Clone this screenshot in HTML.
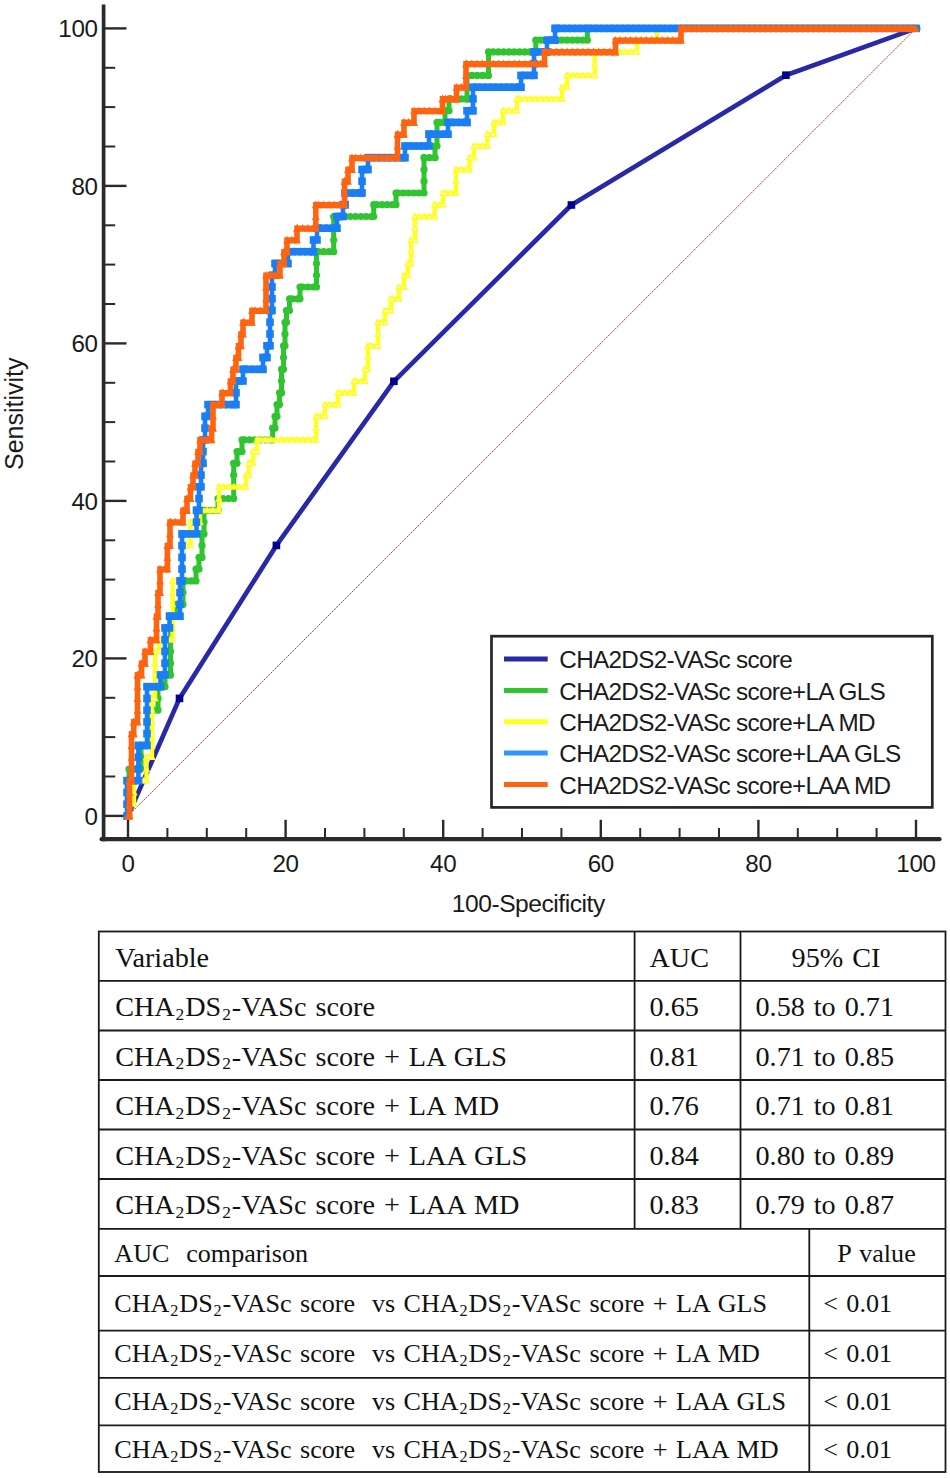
<!DOCTYPE html>
<html><head><meta charset="utf-8"><title>ROC</title><style>html,body{margin:0;padding:0;background:#fff}svg{display:block}</style></head><body>
<svg width="950" height="1478" viewBox="0 0 950 1478" font-family="Liberation Sans, sans-serif">
<rect width="950" height="1478" fill="#fff"/>
<line x1="128" y1="815.9" x2="916" y2="28.4" stroke="#b54545" stroke-width="1" stroke-dasharray="2.2 0.9"/>
<g stroke="#2a2a2a" fill="none">
<line x1="103.6" y1="4.5" x2="103.6" y2="841.2" stroke-width="3.7"/>
<line x1="101.6" y1="839.2" x2="939.5" y2="839.2" stroke-width="4.2" stroke-linecap="round"/>
<line x1="104" y1="815.9" x2="126.5" y2="815.9" stroke-width="2.4"/>
<line x1="128.0" y1="838" x2="128.0" y2="819.8" stroke-width="2.4"/>
<line x1="104" y1="776.5" x2="115.2" y2="776.5" stroke-width="2"/>
<line x1="167.4" y1="838" x2="167.4" y2="828" stroke-width="2"/>
<line x1="104" y1="737.1" x2="115.2" y2="737.1" stroke-width="2"/>
<line x1="206.8" y1="838" x2="206.8" y2="828" stroke-width="2"/>
<line x1="104" y1="697.8" x2="115.2" y2="697.8" stroke-width="2"/>
<line x1="246.2" y1="838" x2="246.2" y2="828" stroke-width="2"/>
<line x1="104" y1="658.4" x2="126.5" y2="658.4" stroke-width="2.4"/>
<line x1="285.6" y1="838" x2="285.6" y2="819.8" stroke-width="2.4"/>
<line x1="104" y1="619.0" x2="115.2" y2="619.0" stroke-width="2"/>
<line x1="325.0" y1="838" x2="325.0" y2="828" stroke-width="2"/>
<line x1="104" y1="579.6" x2="115.2" y2="579.6" stroke-width="2"/>
<line x1="364.4" y1="838" x2="364.4" y2="828" stroke-width="2"/>
<line x1="104" y1="540.3" x2="115.2" y2="540.3" stroke-width="2"/>
<line x1="403.8" y1="838" x2="403.8" y2="828" stroke-width="2"/>
<line x1="104" y1="500.9" x2="126.5" y2="500.9" stroke-width="2.4"/>
<line x1="443.2" y1="838" x2="443.2" y2="819.8" stroke-width="2.4"/>
<line x1="104" y1="461.5" x2="115.2" y2="461.5" stroke-width="2"/>
<line x1="482.6" y1="838" x2="482.6" y2="828" stroke-width="2"/>
<line x1="104" y1="422.1" x2="115.2" y2="422.1" stroke-width="2"/>
<line x1="522.0" y1="838" x2="522.0" y2="828" stroke-width="2"/>
<line x1="104" y1="382.8" x2="115.2" y2="382.8" stroke-width="2"/>
<line x1="561.4" y1="838" x2="561.4" y2="828" stroke-width="2"/>
<line x1="104" y1="343.4" x2="126.5" y2="343.4" stroke-width="2.4"/>
<line x1="600.8" y1="838" x2="600.8" y2="819.8" stroke-width="2.4"/>
<line x1="104" y1="304.0" x2="115.2" y2="304.0" stroke-width="2"/>
<line x1="640.2" y1="838" x2="640.2" y2="828" stroke-width="2"/>
<line x1="104" y1="264.6" x2="115.2" y2="264.6" stroke-width="2"/>
<line x1="679.6" y1="838" x2="679.6" y2="828" stroke-width="2"/>
<line x1="104" y1="225.3" x2="115.2" y2="225.3" stroke-width="2"/>
<line x1="719.0" y1="838" x2="719.0" y2="828" stroke-width="2"/>
<line x1="104" y1="185.9" x2="126.5" y2="185.9" stroke-width="2.4"/>
<line x1="758.4" y1="838" x2="758.4" y2="819.8" stroke-width="2.4"/>
<line x1="104" y1="146.5" x2="115.2" y2="146.5" stroke-width="2"/>
<line x1="797.8" y1="838" x2="797.8" y2="828" stroke-width="2"/>
<line x1="104" y1="107.1" x2="115.2" y2="107.1" stroke-width="2"/>
<line x1="837.2" y1="838" x2="837.2" y2="828" stroke-width="2"/>
<line x1="104" y1="67.8" x2="115.2" y2="67.8" stroke-width="2"/>
<line x1="876.6" y1="838" x2="876.6" y2="828" stroke-width="2"/>
<line x1="104" y1="28.4" x2="126.5" y2="28.4" stroke-width="2.4"/>
<line x1="916.0" y1="838" x2="916.0" y2="819.8" stroke-width="2.4"/>
</g>
<g font-size="24.2" fill="#1a1a1a" letter-spacing="-0.35">
<text x="97.6" y="824.9" text-anchor="end">0</text>
<text x="128.0" y="872.4" text-anchor="middle">0</text>
<text x="97.6" y="667.4" text-anchor="end">20</text>
<text x="285.6" y="872.4" text-anchor="middle">20</text>
<text x="97.6" y="509.9" text-anchor="end">40</text>
<text x="443.2" y="872.4" text-anchor="middle">40</text>
<text x="97.6" y="352.4" text-anchor="end">60</text>
<text x="600.8" y="872.4" text-anchor="middle">60</text>
<text x="97.6" y="194.9" text-anchor="end">80</text>
<text x="758.4" y="872.4" text-anchor="middle">80</text>
<text x="97.6" y="37.4" text-anchor="end">100</text>
<text x="916.0" y="872.4" text-anchor="middle">100</text>
</g>
<text x="528.3" y="912.2" font-size="24.6" letter-spacing="-0.47" text-anchor="middle" fill="#1a1a1a">100-Specificity</text>
<text transform="translate(23.3,413.7) rotate(-90) scale(0.962,1.01)" font-size="26" text-anchor="middle" fill="#1a1a1a">Sensitivity</text>
<path d="M128.0 815.9 L179.5 698.4 L276.4 545.4 L393.9 381.3 L571.4 205.0 L785.9 75.2 L916.0 28.4" fill="none" stroke="#2929a8" stroke-width="4.7" stroke-linejoin="round"/>
<rect x="175.7" y="694.6" width="7.6" height="7.6" fill="#00008a"/>
<rect x="272.6" y="541.6" width="7.6" height="7.6" fill="#00008a"/>
<rect x="390.1" y="377.5" width="7.6" height="7.6" fill="#00008a"/>
<rect x="567.6" y="201.2" width="7.6" height="7.6" fill="#00008a"/>
<rect x="782.1" y="71.4" width="7.6" height="7.6" fill="#00008a"/>
<path d="M128.0 816.0 L129.0 816.0 L129.0 769.0 L141.0 769.0 L141.0 745.5 L150.0 745.5 L150.0 710.2 L158.0 710.2 L158.0 686.7 L165.0 686.7 L165.0 674.9 L170.5 674.9 L170.5 616.1 L176.0 616.1 L176.0 604.4 L183.0 604.4 L183.0 580.9 L196.0 580.9 L196.0 569.1 L199.0 569.1 L199.0 557.4 L202.0 557.4 L202.0 533.9 L204.0 533.9 L204.0 510.4 L218.0 510.4 L218.0 498.6 L233.7 498.6 L233.7 463.3 L237.0 463.3 L237.0 451.6 L242.0 451.6 L242.0 439.8 L272.6 439.8 L272.6 428.1 L275.0 428.1 L275.0 416.3 L277.0 416.3 L277.0 404.6 L279.5 404.6 L279.5 392.8 L281.5 392.8 L281.5 369.3 L283.5 369.3 L283.5 345.8 L285.0 345.8 L285.0 322.3 L286.5 322.3 L286.5 310.5 L289.5 310.5 L289.5 298.8 L300.0 298.8 L300.0 287.0 L316.5 287.0 L316.5 251.7 L333.7 251.7 L333.7 216.5 L373.7 216.5 L373.7 204.7 L396.0 204.7 L396.0 193.0 L424.0 193.0 L424.0 157.7 L435.0 157.7 L435.0 146.0 L437.0 146.0 L437.0 122.4 L445.0 122.4 L445.0 110.7 L449.0 110.7 L449.0 98.9 L467.0 98.9 L467.0 75.4 L488.5 75.4 L488.5 51.9 L535.8 51.9 L535.8 40.2 L587.4 40.2 L587.4 28.4 L917.0 28.4" fill="none" stroke="#30c430" stroke-width="5" stroke-linejoin="round" stroke-linecap="round"/>
<g fill="#30c430">
<circle cx="128.0" cy="816.0" r="3.6"/>
<circle cx="129.0" cy="816.0" r="3.6"/>
<circle cx="129.0" cy="769.0" r="3.6"/>
<circle cx="129.0" cy="780.7" r="3.6"/>
<circle cx="129.0" cy="792.5" r="3.6"/>
<circle cx="129.0" cy="804.2" r="3.6"/>
<circle cx="133.3" cy="769.0" r="3.6"/>
<circle cx="138.6" cy="769.0" r="3.6"/>
<circle cx="141.0" cy="769.0" r="3.6"/>
<circle cx="141.0" cy="745.5" r="3.6"/>
<circle cx="141.0" cy="757.2" r="3.6"/>
<circle cx="143.9" cy="745.5" r="3.6"/>
<circle cx="149.2" cy="745.5" r="3.6"/>
<circle cx="150.0" cy="745.5" r="3.6"/>
<circle cx="150.0" cy="710.2" r="3.6"/>
<circle cx="150.0" cy="721.9" r="3.6"/>
<circle cx="150.0" cy="733.7" r="3.6"/>
<circle cx="154.4" cy="710.2" r="3.6"/>
<circle cx="158.0" cy="710.2" r="3.6"/>
<circle cx="158.0" cy="686.7" r="3.6"/>
<circle cx="158.0" cy="698.4" r="3.6"/>
<circle cx="159.7" cy="686.7" r="3.6"/>
<circle cx="165.0" cy="686.7" r="3.6"/>
<circle cx="165.0" cy="674.9" r="3.6"/>
<circle cx="170.3" cy="674.9" r="3.6"/>
<circle cx="170.5" cy="674.9" r="3.6"/>
<circle cx="170.5" cy="616.1" r="3.6"/>
<circle cx="170.5" cy="627.9" r="3.6"/>
<circle cx="170.5" cy="639.7" r="3.6"/>
<circle cx="170.5" cy="651.4" r="3.6"/>
<circle cx="170.5" cy="663.2" r="3.6"/>
<circle cx="175.6" cy="616.1" r="3.6"/>
<circle cx="176.0" cy="616.1" r="3.6"/>
<circle cx="176.0" cy="604.4" r="3.6"/>
<circle cx="180.9" cy="604.4" r="3.6"/>
<circle cx="183.0" cy="604.4" r="3.6"/>
<circle cx="183.0" cy="580.9" r="3.6"/>
<circle cx="183.0" cy="592.6" r="3.6"/>
<circle cx="186.2" cy="580.9" r="3.6"/>
<circle cx="191.5" cy="580.9" r="3.6"/>
<circle cx="196.0" cy="580.9" r="3.6"/>
<circle cx="196.0" cy="569.1" r="3.6"/>
<circle cx="196.8" cy="569.1" r="3.6"/>
<circle cx="199.0" cy="569.1" r="3.6"/>
<circle cx="199.0" cy="557.4" r="3.6"/>
<circle cx="202.0" cy="557.4" r="3.6"/>
<circle cx="202.0" cy="533.9" r="3.6"/>
<circle cx="202.0" cy="545.6" r="3.6"/>
<circle cx="202.1" cy="533.9" r="3.6"/>
<circle cx="204.0" cy="533.9" r="3.6"/>
<circle cx="204.0" cy="510.4" r="3.6"/>
<circle cx="204.0" cy="522.1" r="3.6"/>
<circle cx="207.3" cy="510.4" r="3.6"/>
<circle cx="212.6" cy="510.4" r="3.6"/>
<circle cx="217.9" cy="510.4" r="3.6"/>
<circle cx="218.0" cy="510.4" r="3.6"/>
<circle cx="218.0" cy="498.6" r="3.6"/>
<circle cx="223.2" cy="498.6" r="3.6"/>
<circle cx="228.5" cy="498.6" r="3.6"/>
<circle cx="233.7" cy="498.6" r="3.6"/>
<circle cx="233.7" cy="463.3" r="3.6"/>
<circle cx="233.7" cy="475.1" r="3.6"/>
<circle cx="233.7" cy="486.8" r="3.6"/>
<circle cx="233.8" cy="463.3" r="3.6"/>
<circle cx="237.0" cy="463.3" r="3.6"/>
<circle cx="237.0" cy="451.6" r="3.6"/>
<circle cx="239.1" cy="451.6" r="3.6"/>
<circle cx="242.0" cy="451.6" r="3.6"/>
<circle cx="242.0" cy="439.8" r="3.6"/>
<circle cx="244.4" cy="439.8" r="3.6"/>
<circle cx="249.7" cy="439.8" r="3.6"/>
<circle cx="255.0" cy="439.8" r="3.6"/>
<circle cx="260.2" cy="439.8" r="3.6"/>
<circle cx="265.5" cy="439.8" r="3.6"/>
<circle cx="270.8" cy="439.8" r="3.6"/>
<circle cx="272.6" cy="439.8" r="3.6"/>
<circle cx="272.6" cy="428.1" r="3.6"/>
<circle cx="275.0" cy="428.1" r="3.6"/>
<circle cx="275.0" cy="416.3" r="3.6"/>
<circle cx="276.1" cy="416.3" r="3.6"/>
<circle cx="277.0" cy="416.3" r="3.6"/>
<circle cx="277.0" cy="404.6" r="3.6"/>
<circle cx="279.5" cy="404.6" r="3.6"/>
<circle cx="279.5" cy="392.8" r="3.6"/>
<circle cx="281.4" cy="392.8" r="3.6"/>
<circle cx="281.5" cy="392.8" r="3.6"/>
<circle cx="281.5" cy="369.3" r="3.6"/>
<circle cx="281.5" cy="381.1" r="3.6"/>
<circle cx="283.5" cy="369.3" r="3.6"/>
<circle cx="283.5" cy="345.8" r="3.6"/>
<circle cx="283.5" cy="357.5" r="3.6"/>
<circle cx="285.0" cy="345.8" r="3.6"/>
<circle cx="285.0" cy="322.3" r="3.6"/>
<circle cx="285.0" cy="334.0" r="3.6"/>
<circle cx="286.5" cy="322.3" r="3.6"/>
<circle cx="286.5" cy="310.5" r="3.6"/>
<circle cx="286.7" cy="310.5" r="3.6"/>
<circle cx="289.5" cy="310.5" r="3.6"/>
<circle cx="289.5" cy="298.8" r="3.6"/>
<circle cx="292.0" cy="298.8" r="3.6"/>
<circle cx="297.3" cy="298.8" r="3.6"/>
<circle cx="300.0" cy="298.8" r="3.6"/>
<circle cx="300.0" cy="287.0" r="3.6"/>
<circle cx="302.6" cy="287.0" r="3.6"/>
<circle cx="307.9" cy="287.0" r="3.6"/>
<circle cx="313.1" cy="287.0" r="3.6"/>
<circle cx="316.5" cy="287.0" r="3.6"/>
<circle cx="316.5" cy="251.7" r="3.6"/>
<circle cx="316.5" cy="263.5" r="3.6"/>
<circle cx="316.5" cy="275.3" r="3.6"/>
<circle cx="318.4" cy="251.7" r="3.6"/>
<circle cx="323.7" cy="251.7" r="3.6"/>
<circle cx="329.0" cy="251.7" r="3.6"/>
<circle cx="333.7" cy="251.7" r="3.6"/>
<circle cx="333.7" cy="216.5" r="3.6"/>
<circle cx="333.7" cy="228.2" r="3.6"/>
<circle cx="333.7" cy="240.0" r="3.6"/>
<circle cx="334.3" cy="216.5" r="3.6"/>
<circle cx="339.6" cy="216.5" r="3.6"/>
<circle cx="344.9" cy="216.5" r="3.6"/>
<circle cx="350.2" cy="216.5" r="3.6"/>
<circle cx="355.5" cy="216.5" r="3.6"/>
<circle cx="360.8" cy="216.5" r="3.6"/>
<circle cx="366.1" cy="216.5" r="3.6"/>
<circle cx="371.3" cy="216.5" r="3.6"/>
<circle cx="373.7" cy="216.5" r="3.6"/>
<circle cx="373.7" cy="204.7" r="3.6"/>
<circle cx="376.6" cy="204.7" r="3.6"/>
<circle cx="381.9" cy="204.7" r="3.6"/>
<circle cx="387.2" cy="204.7" r="3.6"/>
<circle cx="392.5" cy="204.7" r="3.6"/>
<circle cx="396.0" cy="204.7" r="3.6"/>
<circle cx="396.0" cy="193.0" r="3.6"/>
<circle cx="397.8" cy="193.0" r="3.6"/>
<circle cx="403.1" cy="193.0" r="3.6"/>
<circle cx="408.4" cy="193.0" r="3.6"/>
<circle cx="413.7" cy="193.0" r="3.6"/>
<circle cx="418.9" cy="193.0" r="3.6"/>
<circle cx="424.0" cy="193.0" r="3.6"/>
<circle cx="424.0" cy="157.7" r="3.6"/>
<circle cx="424.0" cy="169.5" r="3.6"/>
<circle cx="424.0" cy="181.2" r="3.6"/>
<circle cx="424.2" cy="157.7" r="3.6"/>
<circle cx="429.5" cy="157.7" r="3.6"/>
<circle cx="434.8" cy="157.7" r="3.6"/>
<circle cx="435.0" cy="157.7" r="3.6"/>
<circle cx="435.0" cy="146.0" r="3.6"/>
<circle cx="437.0" cy="146.0" r="3.6"/>
<circle cx="437.0" cy="122.4" r="3.6"/>
<circle cx="437.0" cy="134.2" r="3.6"/>
<circle cx="440.1" cy="122.4" r="3.6"/>
<circle cx="445.0" cy="122.4" r="3.6"/>
<circle cx="445.0" cy="110.7" r="3.6"/>
<circle cx="445.4" cy="110.7" r="3.6"/>
<circle cx="449.0" cy="110.7" r="3.6"/>
<circle cx="449.0" cy="98.9" r="3.6"/>
<circle cx="450.7" cy="98.9" r="3.6"/>
<circle cx="456.0" cy="98.9" r="3.6"/>
<circle cx="461.3" cy="98.9" r="3.6"/>
<circle cx="466.6" cy="98.9" r="3.6"/>
<circle cx="467.0" cy="98.9" r="3.6"/>
<circle cx="467.0" cy="75.4" r="3.6"/>
<circle cx="467.0" cy="87.2" r="3.6"/>
<circle cx="471.9" cy="75.4" r="3.6"/>
<circle cx="477.1" cy="75.4" r="3.6"/>
<circle cx="482.4" cy="75.4" r="3.6"/>
<circle cx="487.7" cy="75.4" r="3.6"/>
<circle cx="488.5" cy="75.4" r="3.6"/>
<circle cx="488.5" cy="51.9" r="3.6"/>
<circle cx="488.5" cy="63.7" r="3.6"/>
<circle cx="493.0" cy="51.9" r="3.6"/>
<circle cx="498.3" cy="51.9" r="3.6"/>
<circle cx="503.6" cy="51.9" r="3.6"/>
<circle cx="508.9" cy="51.9" r="3.6"/>
<circle cx="514.2" cy="51.9" r="3.6"/>
<circle cx="519.5" cy="51.9" r="3.6"/>
<circle cx="524.8" cy="51.9" r="3.6"/>
<circle cx="530.0" cy="51.9" r="3.6"/>
<circle cx="535.3" cy="51.9" r="3.6"/>
<circle cx="535.8" cy="51.9" r="3.6"/>
<circle cx="535.8" cy="40.2" r="3.6"/>
<circle cx="540.6" cy="40.2" r="3.6"/>
<circle cx="545.9" cy="40.2" r="3.6"/>
<circle cx="551.2" cy="40.2" r="3.6"/>
<circle cx="556.5" cy="40.2" r="3.6"/>
<circle cx="561.8" cy="40.2" r="3.6"/>
<circle cx="567.1" cy="40.2" r="3.6"/>
<circle cx="572.4" cy="40.2" r="3.6"/>
<circle cx="577.6" cy="40.2" r="3.6"/>
<circle cx="582.9" cy="40.2" r="3.6"/>
<circle cx="587.4" cy="40.2" r="3.6"/>
<circle cx="587.4" cy="28.4" r="3.6"/>
<circle cx="588.2" cy="28.4" r="3.6"/>
<circle cx="593.5" cy="28.4" r="3.6"/>
<circle cx="598.8" cy="28.4" r="3.6"/>
<circle cx="604.1" cy="28.4" r="3.6"/>
<circle cx="609.4" cy="28.4" r="3.6"/>
<circle cx="614.7" cy="28.4" r="3.6"/>
<circle cx="620.0" cy="28.4" r="3.6"/>
<circle cx="625.3" cy="28.4" r="3.6"/>
<circle cx="630.5" cy="28.4" r="3.6"/>
<circle cx="635.8" cy="28.4" r="3.6"/>
<circle cx="641.1" cy="28.4" r="3.6"/>
<circle cx="646.4" cy="28.4" r="3.6"/>
<circle cx="651.7" cy="28.4" r="3.6"/>
<circle cx="657.0" cy="28.4" r="3.6"/>
<circle cx="662.3" cy="28.4" r="3.6"/>
<circle cx="667.6" cy="28.4" r="3.6"/>
<circle cx="672.9" cy="28.4" r="3.6"/>
<circle cx="678.2" cy="28.4" r="3.6"/>
<circle cx="683.5" cy="28.4" r="3.6"/>
<circle cx="688.7" cy="28.4" r="3.6"/>
<circle cx="694.0" cy="28.4" r="3.6"/>
<circle cx="699.3" cy="28.4" r="3.6"/>
<circle cx="704.6" cy="28.4" r="3.6"/>
<circle cx="709.9" cy="28.4" r="3.6"/>
<circle cx="715.2" cy="28.4" r="3.6"/>
<circle cx="720.5" cy="28.4" r="3.6"/>
<circle cx="725.8" cy="28.4" r="3.6"/>
<circle cx="731.1" cy="28.4" r="3.6"/>
<circle cx="736.4" cy="28.4" r="3.6"/>
<circle cx="741.6" cy="28.4" r="3.6"/>
<circle cx="746.9" cy="28.4" r="3.6"/>
<circle cx="752.2" cy="28.4" r="3.6"/>
<circle cx="757.5" cy="28.4" r="3.6"/>
<circle cx="762.8" cy="28.4" r="3.6"/>
<circle cx="768.1" cy="28.4" r="3.6"/>
<circle cx="773.4" cy="28.4" r="3.6"/>
<circle cx="778.7" cy="28.4" r="3.6"/>
<circle cx="784.0" cy="28.4" r="3.6"/>
<circle cx="789.2" cy="28.4" r="3.6"/>
<circle cx="794.5" cy="28.4" r="3.6"/>
<circle cx="799.8" cy="28.4" r="3.6"/>
<circle cx="805.1" cy="28.4" r="3.6"/>
<circle cx="810.4" cy="28.4" r="3.6"/>
<circle cx="815.7" cy="28.4" r="3.6"/>
<circle cx="821.0" cy="28.4" r="3.6"/>
<circle cx="826.3" cy="28.4" r="3.6"/>
<circle cx="831.6" cy="28.4" r="3.6"/>
<circle cx="836.9" cy="28.4" r="3.6"/>
<circle cx="842.1" cy="28.4" r="3.6"/>
<circle cx="847.4" cy="28.4" r="3.6"/>
<circle cx="852.7" cy="28.4" r="3.6"/>
<circle cx="858.0" cy="28.4" r="3.6"/>
<circle cx="863.3" cy="28.4" r="3.6"/>
<circle cx="868.6" cy="28.4" r="3.6"/>
<circle cx="873.9" cy="28.4" r="3.6"/>
<circle cx="879.2" cy="28.4" r="3.6"/>
<circle cx="884.5" cy="28.4" r="3.6"/>
<circle cx="889.8" cy="28.4" r="3.6"/>
<circle cx="895.0" cy="28.4" r="3.6"/>
<circle cx="900.3" cy="28.4" r="3.6"/>
<circle cx="905.6" cy="28.4" r="3.6"/>
<circle cx="910.9" cy="28.4" r="3.6"/>
<circle cx="916.2" cy="28.4" r="3.6"/>
<circle cx="917.0" cy="28.4" r="3.6"/>
</g>
<path d="M128.0 816.0 L130.0 816.0 L130.0 804.2 L134.0 804.2 L134.0 780.7 L146.5 780.7 L146.5 757.2 L152.0 757.2 L152.0 698.4 L155.0 698.4 L155.0 651.4 L159.0 651.4 L159.0 639.7 L172.6 639.7 L172.6 580.9 L182.0 580.9 L182.0 545.6 L190.5 545.6 L190.5 522.1 L200.0 522.1 L200.0 510.4 L219.0 510.4 L219.0 486.8 L246.0 486.8 L246.0 475.1 L249.0 475.1 L249.0 463.3 L253.0 463.3 L253.0 451.6 L257.0 451.6 L257.0 439.8 L316.0 439.8 L316.0 416.3 L325.0 416.3 L325.0 404.6 L338.0 404.6 L338.0 392.8 L354.0 392.8 L354.0 381.1 L365.0 381.1 L365.0 369.3 L368.0 369.3 L368.0 345.8 L378.0 345.8 L378.0 322.3 L385.0 322.3 L385.0 310.5 L391.0 310.5 L391.0 298.8 L399.0 298.8 L399.0 287.0 L404.0 287.0 L404.0 275.3 L408.0 275.3 L408.0 263.5 L411.0 263.5 L411.0 240.0 L415.0 240.0 L415.0 216.5 L434.7 216.5 L434.7 204.7 L443.0 204.7 L443.0 193.0 L456.0 193.0 L456.0 169.5 L469.5 169.5 L469.5 157.7 L474.0 157.7 L474.0 146.0 L487.4 146.0 L487.4 134.2 L494.0 134.2 L494.0 122.4 L503.0 122.4 L503.0 110.7 L517.0 110.7 L517.0 98.9 L562.0 98.9 L562.0 87.2 L567.0 87.2 L567.0 75.4 L594.7 75.4 L594.7 51.9 L636.8 51.9 L636.8 40.2 L656.8 40.2 L656.8 28.4 L917.0 28.4" fill="none" stroke="#ffff20" stroke-width="4.4" stroke-linejoin="miter"/>
<g fill="#ffff20">
<path d="M128.0 811.9 l3.7 7 h-7.4 z"/>
<path d="M130.0 811.9 l3.7 7 h-7.4 z"/>
<path d="M130.0 800.1 l3.7 7 h-7.4 z"/>
<path d="M133.3 800.1 l3.7 7 h-7.4 z"/>
<path d="M134.0 800.1 l3.7 7 h-7.4 z"/>
<path d="M134.0 776.6 l3.7 7 h-7.4 z"/>
<path d="M134.0 788.4 l3.7 7 h-7.4 z"/>
<path d="M138.6 776.6 l3.7 7 h-7.4 z"/>
<path d="M143.9 776.6 l3.7 7 h-7.4 z"/>
<path d="M146.5 776.6 l3.7 7 h-7.4 z"/>
<path d="M146.5 753.1 l3.7 7 h-7.4 z"/>
<path d="M146.5 764.9 l3.7 7 h-7.4 z"/>
<path d="M149.2 753.1 l3.7 7 h-7.4 z"/>
<path d="M152.0 753.1 l3.7 7 h-7.4 z"/>
<path d="M152.0 694.3 l3.7 7 h-7.4 z"/>
<path d="M152.0 706.1 l3.7 7 h-7.4 z"/>
<path d="M152.0 717.8 l3.7 7 h-7.4 z"/>
<path d="M152.0 729.6 l3.7 7 h-7.4 z"/>
<path d="M152.0 741.4 l3.7 7 h-7.4 z"/>
<path d="M154.4 694.3 l3.7 7 h-7.4 z"/>
<path d="M155.0 694.3 l3.7 7 h-7.4 z"/>
<path d="M155.0 647.3 l3.7 7 h-7.4 z"/>
<path d="M155.0 659.1 l3.7 7 h-7.4 z"/>
<path d="M155.0 670.8 l3.7 7 h-7.4 z"/>
<path d="M155.0 682.6 l3.7 7 h-7.4 z"/>
<path d="M159.0 647.3 l3.7 7 h-7.4 z"/>
<path d="M159.0 635.6 l3.7 7 h-7.4 z"/>
<path d="M159.7 635.6 l3.7 7 h-7.4 z"/>
<path d="M165.0 635.6 l3.7 7 h-7.4 z"/>
<path d="M170.3 635.6 l3.7 7 h-7.4 z"/>
<path d="M172.6 635.6 l3.7 7 h-7.4 z"/>
<path d="M172.6 576.8 l3.7 7 h-7.4 z"/>
<path d="M172.6 588.5 l3.7 7 h-7.4 z"/>
<path d="M172.6 600.3 l3.7 7 h-7.4 z"/>
<path d="M172.6 612.0 l3.7 7 h-7.4 z"/>
<path d="M172.6 623.8 l3.7 7 h-7.4 z"/>
<path d="M175.6 576.8 l3.7 7 h-7.4 z"/>
<path d="M180.9 576.8 l3.7 7 h-7.4 z"/>
<path d="M182.0 576.8 l3.7 7 h-7.4 z"/>
<path d="M182.0 541.5 l3.7 7 h-7.4 z"/>
<path d="M182.0 553.3 l3.7 7 h-7.4 z"/>
<path d="M182.0 565.0 l3.7 7 h-7.4 z"/>
<path d="M186.2 541.5 l3.7 7 h-7.4 z"/>
<path d="M190.5 541.5 l3.7 7 h-7.4 z"/>
<path d="M190.5 518.0 l3.7 7 h-7.4 z"/>
<path d="M190.5 529.8 l3.7 7 h-7.4 z"/>
<path d="M191.5 518.0 l3.7 7 h-7.4 z"/>
<path d="M196.8 518.0 l3.7 7 h-7.4 z"/>
<path d="M200.0 518.0 l3.7 7 h-7.4 z"/>
<path d="M200.0 506.3 l3.7 7 h-7.4 z"/>
<path d="M202.1 506.3 l3.7 7 h-7.4 z"/>
<path d="M207.3 506.3 l3.7 7 h-7.4 z"/>
<path d="M212.6 506.3 l3.7 7 h-7.4 z"/>
<path d="M217.9 506.3 l3.7 7 h-7.4 z"/>
<path d="M219.0 506.3 l3.7 7 h-7.4 z"/>
<path d="M219.0 482.7 l3.7 7 h-7.4 z"/>
<path d="M219.0 494.5 l3.7 7 h-7.4 z"/>
<path d="M223.2 482.7 l3.7 7 h-7.4 z"/>
<path d="M228.5 482.7 l3.7 7 h-7.4 z"/>
<path d="M233.8 482.7 l3.7 7 h-7.4 z"/>
<path d="M239.1 482.7 l3.7 7 h-7.4 z"/>
<path d="M244.4 482.7 l3.7 7 h-7.4 z"/>
<path d="M246.0 482.7 l3.7 7 h-7.4 z"/>
<path d="M246.0 471.0 l3.7 7 h-7.4 z"/>
<path d="M249.0 471.0 l3.7 7 h-7.4 z"/>
<path d="M249.0 459.2 l3.7 7 h-7.4 z"/>
<path d="M249.7 459.2 l3.7 7 h-7.4 z"/>
<path d="M253.0 459.2 l3.7 7 h-7.4 z"/>
<path d="M253.0 447.5 l3.7 7 h-7.4 z"/>
<path d="M255.0 447.5 l3.7 7 h-7.4 z"/>
<path d="M257.0 447.5 l3.7 7 h-7.4 z"/>
<path d="M257.0 435.7 l3.7 7 h-7.4 z"/>
<path d="M260.2 435.7 l3.7 7 h-7.4 z"/>
<path d="M265.5 435.7 l3.7 7 h-7.4 z"/>
<path d="M270.8 435.7 l3.7 7 h-7.4 z"/>
<path d="M276.1 435.7 l3.7 7 h-7.4 z"/>
<path d="M281.4 435.7 l3.7 7 h-7.4 z"/>
<path d="M286.7 435.7 l3.7 7 h-7.4 z"/>
<path d="M292.0 435.7 l3.7 7 h-7.4 z"/>
<path d="M297.3 435.7 l3.7 7 h-7.4 z"/>
<path d="M302.6 435.7 l3.7 7 h-7.4 z"/>
<path d="M307.9 435.7 l3.7 7 h-7.4 z"/>
<path d="M313.1 435.7 l3.7 7 h-7.4 z"/>
<path d="M316.0 435.7 l3.7 7 h-7.4 z"/>
<path d="M316.0 412.2 l3.7 7 h-7.4 z"/>
<path d="M316.0 424.0 l3.7 7 h-7.4 z"/>
<path d="M318.4 412.2 l3.7 7 h-7.4 z"/>
<path d="M323.7 412.2 l3.7 7 h-7.4 z"/>
<path d="M325.0 412.2 l3.7 7 h-7.4 z"/>
<path d="M325.0 400.5 l3.7 7 h-7.4 z"/>
<path d="M329.0 400.5 l3.7 7 h-7.4 z"/>
<path d="M334.3 400.5 l3.7 7 h-7.4 z"/>
<path d="M338.0 400.5 l3.7 7 h-7.4 z"/>
<path d="M338.0 388.7 l3.7 7 h-7.4 z"/>
<path d="M339.6 388.7 l3.7 7 h-7.4 z"/>
<path d="M344.9 388.7 l3.7 7 h-7.4 z"/>
<path d="M350.2 388.7 l3.7 7 h-7.4 z"/>
<path d="M354.0 388.7 l3.7 7 h-7.4 z"/>
<path d="M354.0 376.9 l3.7 7 h-7.4 z"/>
<path d="M355.5 376.9 l3.7 7 h-7.4 z"/>
<path d="M360.8 376.9 l3.7 7 h-7.4 z"/>
<path d="M365.0 376.9 l3.7 7 h-7.4 z"/>
<path d="M365.0 365.2 l3.7 7 h-7.4 z"/>
<path d="M366.1 365.2 l3.7 7 h-7.4 z"/>
<path d="M368.0 365.2 l3.7 7 h-7.4 z"/>
<path d="M368.0 341.7 l3.7 7 h-7.4 z"/>
<path d="M368.0 353.4 l3.7 7 h-7.4 z"/>
<path d="M371.3 341.7 l3.7 7 h-7.4 z"/>
<path d="M376.6 341.7 l3.7 7 h-7.4 z"/>
<path d="M378.0 341.7 l3.7 7 h-7.4 z"/>
<path d="M378.0 318.2 l3.7 7 h-7.4 z"/>
<path d="M378.0 329.9 l3.7 7 h-7.4 z"/>
<path d="M381.9 318.2 l3.7 7 h-7.4 z"/>
<path d="M385.0 318.2 l3.7 7 h-7.4 z"/>
<path d="M385.0 306.4 l3.7 7 h-7.4 z"/>
<path d="M387.2 306.4 l3.7 7 h-7.4 z"/>
<path d="M391.0 306.4 l3.7 7 h-7.4 z"/>
<path d="M391.0 294.7 l3.7 7 h-7.4 z"/>
<path d="M392.5 294.7 l3.7 7 h-7.4 z"/>
<path d="M397.8 294.7 l3.7 7 h-7.4 z"/>
<path d="M399.0 294.7 l3.7 7 h-7.4 z"/>
<path d="M399.0 282.9 l3.7 7 h-7.4 z"/>
<path d="M403.1 282.9 l3.7 7 h-7.4 z"/>
<path d="M404.0 282.9 l3.7 7 h-7.4 z"/>
<path d="M404.0 271.2 l3.7 7 h-7.4 z"/>
<path d="M408.0 271.2 l3.7 7 h-7.4 z"/>
<path d="M408.0 259.4 l3.7 7 h-7.4 z"/>
<path d="M408.4 259.4 l3.7 7 h-7.4 z"/>
<path d="M411.0 259.4 l3.7 7 h-7.4 z"/>
<path d="M411.0 235.9 l3.7 7 h-7.4 z"/>
<path d="M411.0 247.6 l3.7 7 h-7.4 z"/>
<path d="M413.7 235.9 l3.7 7 h-7.4 z"/>
<path d="M415.0 235.9 l3.7 7 h-7.4 z"/>
<path d="M415.0 212.4 l3.7 7 h-7.4 z"/>
<path d="M415.0 224.1 l3.7 7 h-7.4 z"/>
<path d="M418.9 212.4 l3.7 7 h-7.4 z"/>
<path d="M424.2 212.4 l3.7 7 h-7.4 z"/>
<path d="M429.5 212.4 l3.7 7 h-7.4 z"/>
<path d="M434.7 212.4 l3.7 7 h-7.4 z"/>
<path d="M434.7 200.6 l3.7 7 h-7.4 z"/>
<path d="M434.8 200.6 l3.7 7 h-7.4 z"/>
<path d="M440.1 200.6 l3.7 7 h-7.4 z"/>
<path d="M443.0 200.6 l3.7 7 h-7.4 z"/>
<path d="M443.0 188.9 l3.7 7 h-7.4 z"/>
<path d="M445.4 188.9 l3.7 7 h-7.4 z"/>
<path d="M450.7 188.9 l3.7 7 h-7.4 z"/>
<path d="M456.0 188.9 l3.7 7 h-7.4 z"/>
<path d="M456.0 165.4 l3.7 7 h-7.4 z"/>
<path d="M456.0 177.1 l3.7 7 h-7.4 z"/>
<path d="M461.3 165.4 l3.7 7 h-7.4 z"/>
<path d="M466.6 165.4 l3.7 7 h-7.4 z"/>
<path d="M469.5 165.4 l3.7 7 h-7.4 z"/>
<path d="M469.5 153.6 l3.7 7 h-7.4 z"/>
<path d="M471.9 153.6 l3.7 7 h-7.4 z"/>
<path d="M474.0 153.6 l3.7 7 h-7.4 z"/>
<path d="M474.0 141.9 l3.7 7 h-7.4 z"/>
<path d="M477.1 141.9 l3.7 7 h-7.4 z"/>
<path d="M482.4 141.9 l3.7 7 h-7.4 z"/>
<path d="M487.4 141.9 l3.7 7 h-7.4 z"/>
<path d="M487.4 130.1 l3.7 7 h-7.4 z"/>
<path d="M487.7 130.1 l3.7 7 h-7.4 z"/>
<path d="M493.0 130.1 l3.7 7 h-7.4 z"/>
<path d="M494.0 130.1 l3.7 7 h-7.4 z"/>
<path d="M494.0 118.3 l3.7 7 h-7.4 z"/>
<path d="M498.3 118.3 l3.7 7 h-7.4 z"/>
<path d="M503.0 118.3 l3.7 7 h-7.4 z"/>
<path d="M503.0 106.6 l3.7 7 h-7.4 z"/>
<path d="M503.6 106.6 l3.7 7 h-7.4 z"/>
<path d="M508.9 106.6 l3.7 7 h-7.4 z"/>
<path d="M514.2 106.6 l3.7 7 h-7.4 z"/>
<path d="M517.0 106.6 l3.7 7 h-7.4 z"/>
<path d="M517.0 94.8 l3.7 7 h-7.4 z"/>
<path d="M519.5 94.8 l3.7 7 h-7.4 z"/>
<path d="M524.8 94.8 l3.7 7 h-7.4 z"/>
<path d="M530.0 94.8 l3.7 7 h-7.4 z"/>
<path d="M535.3 94.8 l3.7 7 h-7.4 z"/>
<path d="M540.6 94.8 l3.7 7 h-7.4 z"/>
<path d="M545.9 94.8 l3.7 7 h-7.4 z"/>
<path d="M551.2 94.8 l3.7 7 h-7.4 z"/>
<path d="M556.5 94.8 l3.7 7 h-7.4 z"/>
<path d="M561.8 94.8 l3.7 7 h-7.4 z"/>
<path d="M562.0 94.8 l3.7 7 h-7.4 z"/>
<path d="M562.0 83.1 l3.7 7 h-7.4 z"/>
<path d="M567.0 83.1 l3.7 7 h-7.4 z"/>
<path d="M567.0 71.3 l3.7 7 h-7.4 z"/>
<path d="M567.1 71.3 l3.7 7 h-7.4 z"/>
<path d="M572.4 71.3 l3.7 7 h-7.4 z"/>
<path d="M577.6 71.3 l3.7 7 h-7.4 z"/>
<path d="M582.9 71.3 l3.7 7 h-7.4 z"/>
<path d="M588.2 71.3 l3.7 7 h-7.4 z"/>
<path d="M593.5 71.3 l3.7 7 h-7.4 z"/>
<path d="M594.7 71.3 l3.7 7 h-7.4 z"/>
<path d="M594.7 47.8 l3.7 7 h-7.4 z"/>
<path d="M594.7 59.6 l3.7 7 h-7.4 z"/>
<path d="M598.8 47.8 l3.7 7 h-7.4 z"/>
<path d="M604.1 47.8 l3.7 7 h-7.4 z"/>
<path d="M609.4 47.8 l3.7 7 h-7.4 z"/>
<path d="M614.7 47.8 l3.7 7 h-7.4 z"/>
<path d="M620.0 47.8 l3.7 7 h-7.4 z"/>
<path d="M625.3 47.8 l3.7 7 h-7.4 z"/>
<path d="M630.5 47.8 l3.7 7 h-7.4 z"/>
<path d="M635.8 47.8 l3.7 7 h-7.4 z"/>
<path d="M636.8 47.8 l3.7 7 h-7.4 z"/>
<path d="M636.8 36.1 l3.7 7 h-7.4 z"/>
<path d="M641.1 36.1 l3.7 7 h-7.4 z"/>
<path d="M646.4 36.1 l3.7 7 h-7.4 z"/>
<path d="M651.7 36.1 l3.7 7 h-7.4 z"/>
<path d="M656.8 36.1 l3.7 7 h-7.4 z"/>
<path d="M656.8 24.3 l3.7 7 h-7.4 z"/>
<path d="M657.0 24.3 l3.7 7 h-7.4 z"/>
<path d="M662.3 24.3 l3.7 7 h-7.4 z"/>
<path d="M667.6 24.3 l3.7 7 h-7.4 z"/>
<path d="M672.9 24.3 l3.7 7 h-7.4 z"/>
<path d="M678.2 24.3 l3.7 7 h-7.4 z"/>
<path d="M683.5 24.3 l3.7 7 h-7.4 z"/>
<path d="M688.7 24.3 l3.7 7 h-7.4 z"/>
<path d="M694.0 24.3 l3.7 7 h-7.4 z"/>
<path d="M699.3 24.3 l3.7 7 h-7.4 z"/>
<path d="M704.6 24.3 l3.7 7 h-7.4 z"/>
<path d="M709.9 24.3 l3.7 7 h-7.4 z"/>
<path d="M715.2 24.3 l3.7 7 h-7.4 z"/>
<path d="M720.5 24.3 l3.7 7 h-7.4 z"/>
<path d="M725.8 24.3 l3.7 7 h-7.4 z"/>
<path d="M731.1 24.3 l3.7 7 h-7.4 z"/>
<path d="M736.4 24.3 l3.7 7 h-7.4 z"/>
<path d="M741.6 24.3 l3.7 7 h-7.4 z"/>
<path d="M746.9 24.3 l3.7 7 h-7.4 z"/>
<path d="M752.2 24.3 l3.7 7 h-7.4 z"/>
<path d="M757.5 24.3 l3.7 7 h-7.4 z"/>
<path d="M762.8 24.3 l3.7 7 h-7.4 z"/>
<path d="M768.1 24.3 l3.7 7 h-7.4 z"/>
<path d="M773.4 24.3 l3.7 7 h-7.4 z"/>
<path d="M778.7 24.3 l3.7 7 h-7.4 z"/>
<path d="M784.0 24.3 l3.7 7 h-7.4 z"/>
<path d="M789.2 24.3 l3.7 7 h-7.4 z"/>
<path d="M794.5 24.3 l3.7 7 h-7.4 z"/>
<path d="M799.8 24.3 l3.7 7 h-7.4 z"/>
<path d="M805.1 24.3 l3.7 7 h-7.4 z"/>
<path d="M810.4 24.3 l3.7 7 h-7.4 z"/>
<path d="M815.7 24.3 l3.7 7 h-7.4 z"/>
<path d="M821.0 24.3 l3.7 7 h-7.4 z"/>
<path d="M826.3 24.3 l3.7 7 h-7.4 z"/>
<path d="M831.6 24.3 l3.7 7 h-7.4 z"/>
<path d="M836.9 24.3 l3.7 7 h-7.4 z"/>
<path d="M842.1 24.3 l3.7 7 h-7.4 z"/>
<path d="M847.4 24.3 l3.7 7 h-7.4 z"/>
<path d="M852.7 24.3 l3.7 7 h-7.4 z"/>
<path d="M858.0 24.3 l3.7 7 h-7.4 z"/>
<path d="M863.3 24.3 l3.7 7 h-7.4 z"/>
<path d="M868.6 24.3 l3.7 7 h-7.4 z"/>
<path d="M873.9 24.3 l3.7 7 h-7.4 z"/>
<path d="M879.2 24.3 l3.7 7 h-7.4 z"/>
<path d="M884.5 24.3 l3.7 7 h-7.4 z"/>
<path d="M889.8 24.3 l3.7 7 h-7.4 z"/>
<path d="M895.0 24.3 l3.7 7 h-7.4 z"/>
<path d="M900.3 24.3 l3.7 7 h-7.4 z"/>
<path d="M905.6 24.3 l3.7 7 h-7.4 z"/>
<path d="M910.9 24.3 l3.7 7 h-7.4 z"/>
<path d="M916.2 24.3 l3.7 7 h-7.4 z"/>
<path d="M917.0 24.3 l3.7 7 h-7.4 z"/>
</g><g fill="#fff">
<circle cx="128.0" cy="816.6" r="1"/>
<circle cx="130.0" cy="816.6" r="1"/>
<circle cx="130.0" cy="804.8" r="1"/>
<circle cx="133.3" cy="804.8" r="1"/>
<circle cx="134.0" cy="804.8" r="1"/>
<circle cx="134.0" cy="781.3" r="1"/>
<circle cx="134.0" cy="793.1" r="1"/>
<circle cx="138.6" cy="781.3" r="1"/>
<circle cx="143.9" cy="781.3" r="1"/>
<circle cx="146.5" cy="781.3" r="1"/>
<circle cx="146.5" cy="757.8" r="1"/>
<circle cx="146.5" cy="769.6" r="1"/>
<circle cx="149.2" cy="757.8" r="1"/>
<circle cx="152.0" cy="757.8" r="1"/>
<circle cx="152.0" cy="699.0" r="1"/>
<circle cx="152.0" cy="710.8" r="1"/>
<circle cx="152.0" cy="722.5" r="1"/>
<circle cx="152.0" cy="734.3" r="1"/>
<circle cx="152.0" cy="746.1" r="1"/>
<circle cx="154.4" cy="699.0" r="1"/>
<circle cx="155.0" cy="699.0" r="1"/>
<circle cx="155.0" cy="652.0" r="1"/>
<circle cx="155.0" cy="663.8" r="1"/>
<circle cx="155.0" cy="675.5" r="1"/>
<circle cx="155.0" cy="687.3" r="1"/>
<circle cx="159.0" cy="652.0" r="1"/>
<circle cx="159.0" cy="640.3" r="1"/>
<circle cx="159.7" cy="640.3" r="1"/>
<circle cx="165.0" cy="640.3" r="1"/>
<circle cx="170.3" cy="640.3" r="1"/>
<circle cx="172.6" cy="640.3" r="1"/>
<circle cx="172.6" cy="581.5" r="1"/>
<circle cx="172.6" cy="593.2" r="1"/>
<circle cx="172.6" cy="605.0" r="1"/>
<circle cx="172.6" cy="616.8" r="1"/>
<circle cx="172.6" cy="628.5" r="1"/>
<circle cx="175.6" cy="581.5" r="1"/>
<circle cx="180.9" cy="581.5" r="1"/>
<circle cx="182.0" cy="581.5" r="1"/>
<circle cx="182.0" cy="546.2" r="1"/>
<circle cx="182.0" cy="558.0" r="1"/>
<circle cx="182.0" cy="569.7" r="1"/>
<circle cx="186.2" cy="546.2" r="1"/>
<circle cx="190.5" cy="546.2" r="1"/>
<circle cx="190.5" cy="522.7" r="1"/>
<circle cx="190.5" cy="534.5" r="1"/>
<circle cx="191.5" cy="522.7" r="1"/>
<circle cx="196.8" cy="522.7" r="1"/>
<circle cx="200.0" cy="522.7" r="1"/>
<circle cx="200.0" cy="511.0" r="1"/>
<circle cx="202.1" cy="511.0" r="1"/>
<circle cx="207.3" cy="511.0" r="1"/>
<circle cx="212.6" cy="511.0" r="1"/>
<circle cx="217.9" cy="511.0" r="1"/>
<circle cx="219.0" cy="511.0" r="1"/>
<circle cx="219.0" cy="487.4" r="1"/>
<circle cx="219.0" cy="499.2" r="1"/>
<circle cx="223.2" cy="487.4" r="1"/>
<circle cx="228.5" cy="487.4" r="1"/>
<circle cx="233.8" cy="487.4" r="1"/>
<circle cx="239.1" cy="487.4" r="1"/>
<circle cx="244.4" cy="487.4" r="1"/>
<circle cx="246.0" cy="487.4" r="1"/>
<circle cx="246.0" cy="475.7" r="1"/>
<circle cx="249.0" cy="475.7" r="1"/>
<circle cx="249.0" cy="463.9" r="1"/>
<circle cx="249.7" cy="463.9" r="1"/>
<circle cx="253.0" cy="463.9" r="1"/>
<circle cx="253.0" cy="452.2" r="1"/>
<circle cx="255.0" cy="452.2" r="1"/>
<circle cx="257.0" cy="452.2" r="1"/>
<circle cx="257.0" cy="440.4" r="1"/>
<circle cx="260.2" cy="440.4" r="1"/>
<circle cx="265.5" cy="440.4" r="1"/>
<circle cx="270.8" cy="440.4" r="1"/>
<circle cx="276.1" cy="440.4" r="1"/>
<circle cx="281.4" cy="440.4" r="1"/>
<circle cx="286.7" cy="440.4" r="1"/>
<circle cx="292.0" cy="440.4" r="1"/>
<circle cx="297.3" cy="440.4" r="1"/>
<circle cx="302.6" cy="440.4" r="1"/>
<circle cx="307.9" cy="440.4" r="1"/>
<circle cx="313.1" cy="440.4" r="1"/>
<circle cx="316.0" cy="440.4" r="1"/>
<circle cx="316.0" cy="416.9" r="1"/>
<circle cx="316.0" cy="428.7" r="1"/>
<circle cx="318.4" cy="416.9" r="1"/>
<circle cx="323.7" cy="416.9" r="1"/>
<circle cx="325.0" cy="416.9" r="1"/>
<circle cx="325.0" cy="405.2" r="1"/>
<circle cx="329.0" cy="405.2" r="1"/>
<circle cx="334.3" cy="405.2" r="1"/>
<circle cx="338.0" cy="405.2" r="1"/>
<circle cx="338.0" cy="393.4" r="1"/>
<circle cx="339.6" cy="393.4" r="1"/>
<circle cx="344.9" cy="393.4" r="1"/>
<circle cx="350.2" cy="393.4" r="1"/>
<circle cx="354.0" cy="393.4" r="1"/>
<circle cx="354.0" cy="381.7" r="1"/>
<circle cx="355.5" cy="381.7" r="1"/>
<circle cx="360.8" cy="381.7" r="1"/>
<circle cx="365.0" cy="381.7" r="1"/>
<circle cx="365.0" cy="369.9" r="1"/>
<circle cx="366.1" cy="369.9" r="1"/>
<circle cx="368.0" cy="369.9" r="1"/>
<circle cx="368.0" cy="346.4" r="1"/>
<circle cx="368.0" cy="358.1" r="1"/>
<circle cx="371.3" cy="346.4" r="1"/>
<circle cx="376.6" cy="346.4" r="1"/>
<circle cx="378.0" cy="346.4" r="1"/>
<circle cx="378.0" cy="322.9" r="1"/>
<circle cx="378.0" cy="334.6" r="1"/>
<circle cx="381.9" cy="322.9" r="1"/>
<circle cx="385.0" cy="322.9" r="1"/>
<circle cx="385.0" cy="311.1" r="1"/>
<circle cx="387.2" cy="311.1" r="1"/>
<circle cx="391.0" cy="311.1" r="1"/>
<circle cx="391.0" cy="299.4" r="1"/>
<circle cx="392.5" cy="299.4" r="1"/>
<circle cx="397.8" cy="299.4" r="1"/>
<circle cx="399.0" cy="299.4" r="1"/>
<circle cx="399.0" cy="287.6" r="1"/>
<circle cx="403.1" cy="287.6" r="1"/>
<circle cx="404.0" cy="287.6" r="1"/>
<circle cx="404.0" cy="275.9" r="1"/>
<circle cx="408.0" cy="275.9" r="1"/>
<circle cx="408.0" cy="264.1" r="1"/>
<circle cx="408.4" cy="264.1" r="1"/>
<circle cx="411.0" cy="264.1" r="1"/>
<circle cx="411.0" cy="240.6" r="1"/>
<circle cx="411.0" cy="252.3" r="1"/>
<circle cx="413.7" cy="240.6" r="1"/>
<circle cx="415.0" cy="240.6" r="1"/>
<circle cx="415.0" cy="217.1" r="1"/>
<circle cx="415.0" cy="228.8" r="1"/>
<circle cx="418.9" cy="217.1" r="1"/>
<circle cx="424.2" cy="217.1" r="1"/>
<circle cx="429.5" cy="217.1" r="1"/>
<circle cx="434.7" cy="217.1" r="1"/>
<circle cx="434.7" cy="205.3" r="1"/>
<circle cx="434.8" cy="205.3" r="1"/>
<circle cx="440.1" cy="205.3" r="1"/>
<circle cx="443.0" cy="205.3" r="1"/>
<circle cx="443.0" cy="193.6" r="1"/>
<circle cx="445.4" cy="193.6" r="1"/>
<circle cx="450.7" cy="193.6" r="1"/>
<circle cx="456.0" cy="193.6" r="1"/>
<circle cx="456.0" cy="170.1" r="1"/>
<circle cx="456.0" cy="181.8" r="1"/>
<circle cx="461.3" cy="170.1" r="1"/>
<circle cx="466.6" cy="170.1" r="1"/>
<circle cx="469.5" cy="170.1" r="1"/>
<circle cx="469.5" cy="158.3" r="1"/>
<circle cx="471.9" cy="158.3" r="1"/>
<circle cx="474.0" cy="158.3" r="1"/>
<circle cx="474.0" cy="146.6" r="1"/>
<circle cx="477.1" cy="146.6" r="1"/>
<circle cx="482.4" cy="146.6" r="1"/>
<circle cx="487.4" cy="146.6" r="1"/>
<circle cx="487.4" cy="134.8" r="1"/>
<circle cx="487.7" cy="134.8" r="1"/>
<circle cx="493.0" cy="134.8" r="1"/>
<circle cx="494.0" cy="134.8" r="1"/>
<circle cx="494.0" cy="123.0" r="1"/>
<circle cx="498.3" cy="123.0" r="1"/>
<circle cx="503.0" cy="123.0" r="1"/>
<circle cx="503.0" cy="111.3" r="1"/>
<circle cx="503.6" cy="111.3" r="1"/>
<circle cx="508.9" cy="111.3" r="1"/>
<circle cx="514.2" cy="111.3" r="1"/>
<circle cx="517.0" cy="111.3" r="1"/>
<circle cx="517.0" cy="99.5" r="1"/>
<circle cx="519.5" cy="99.5" r="1"/>
<circle cx="524.8" cy="99.5" r="1"/>
<circle cx="530.0" cy="99.5" r="1"/>
<circle cx="535.3" cy="99.5" r="1"/>
<circle cx="540.6" cy="99.5" r="1"/>
<circle cx="545.9" cy="99.5" r="1"/>
<circle cx="551.2" cy="99.5" r="1"/>
<circle cx="556.5" cy="99.5" r="1"/>
<circle cx="561.8" cy="99.5" r="1"/>
<circle cx="562.0" cy="99.5" r="1"/>
<circle cx="562.0" cy="87.8" r="1"/>
<circle cx="567.0" cy="87.8" r="1"/>
<circle cx="567.0" cy="76.0" r="1"/>
<circle cx="567.1" cy="76.0" r="1"/>
<circle cx="572.4" cy="76.0" r="1"/>
<circle cx="577.6" cy="76.0" r="1"/>
<circle cx="582.9" cy="76.0" r="1"/>
<circle cx="588.2" cy="76.0" r="1"/>
<circle cx="593.5" cy="76.0" r="1"/>
<circle cx="594.7" cy="76.0" r="1"/>
<circle cx="594.7" cy="52.5" r="1"/>
<circle cx="594.7" cy="64.3" r="1"/>
<circle cx="598.8" cy="52.5" r="1"/>
<circle cx="604.1" cy="52.5" r="1"/>
<circle cx="609.4" cy="52.5" r="1"/>
<circle cx="614.7" cy="52.5" r="1"/>
<circle cx="620.0" cy="52.5" r="1"/>
<circle cx="625.3" cy="52.5" r="1"/>
<circle cx="630.5" cy="52.5" r="1"/>
<circle cx="635.8" cy="52.5" r="1"/>
<circle cx="636.8" cy="52.5" r="1"/>
<circle cx="636.8" cy="40.8" r="1"/>
<circle cx="641.1" cy="40.8" r="1"/>
<circle cx="646.4" cy="40.8" r="1"/>
<circle cx="651.7" cy="40.8" r="1"/>
<circle cx="656.8" cy="40.8" r="1"/>
<circle cx="656.8" cy="29.0" r="1"/>
<circle cx="657.0" cy="29.0" r="1"/>
<circle cx="662.3" cy="29.0" r="1"/>
<circle cx="667.6" cy="29.0" r="1"/>
<circle cx="672.9" cy="29.0" r="1"/>
<circle cx="678.2" cy="29.0" r="1"/>
<circle cx="683.5" cy="29.0" r="1"/>
<circle cx="688.7" cy="29.0" r="1"/>
<circle cx="694.0" cy="29.0" r="1"/>
<circle cx="699.3" cy="29.0" r="1"/>
<circle cx="704.6" cy="29.0" r="1"/>
<circle cx="709.9" cy="29.0" r="1"/>
<circle cx="715.2" cy="29.0" r="1"/>
<circle cx="720.5" cy="29.0" r="1"/>
<circle cx="725.8" cy="29.0" r="1"/>
<circle cx="731.1" cy="29.0" r="1"/>
<circle cx="736.4" cy="29.0" r="1"/>
<circle cx="741.6" cy="29.0" r="1"/>
<circle cx="746.9" cy="29.0" r="1"/>
<circle cx="752.2" cy="29.0" r="1"/>
<circle cx="757.5" cy="29.0" r="1"/>
<circle cx="762.8" cy="29.0" r="1"/>
<circle cx="768.1" cy="29.0" r="1"/>
<circle cx="773.4" cy="29.0" r="1"/>
<circle cx="778.7" cy="29.0" r="1"/>
<circle cx="784.0" cy="29.0" r="1"/>
<circle cx="789.2" cy="29.0" r="1"/>
<circle cx="794.5" cy="29.0" r="1"/>
<circle cx="799.8" cy="29.0" r="1"/>
<circle cx="805.1" cy="29.0" r="1"/>
<circle cx="810.4" cy="29.0" r="1"/>
<circle cx="815.7" cy="29.0" r="1"/>
<circle cx="821.0" cy="29.0" r="1"/>
<circle cx="826.3" cy="29.0" r="1"/>
<circle cx="831.6" cy="29.0" r="1"/>
<circle cx="836.9" cy="29.0" r="1"/>
<circle cx="842.1" cy="29.0" r="1"/>
<circle cx="847.4" cy="29.0" r="1"/>
<circle cx="852.7" cy="29.0" r="1"/>
<circle cx="858.0" cy="29.0" r="1"/>
<circle cx="863.3" cy="29.0" r="1"/>
<circle cx="868.6" cy="29.0" r="1"/>
<circle cx="873.9" cy="29.0" r="1"/>
<circle cx="879.2" cy="29.0" r="1"/>
<circle cx="884.5" cy="29.0" r="1"/>
<circle cx="889.8" cy="29.0" r="1"/>
<circle cx="895.0" cy="29.0" r="1"/>
<circle cx="900.3" cy="29.0" r="1"/>
<circle cx="905.6" cy="29.0" r="1"/>
<circle cx="910.9" cy="29.0" r="1"/>
<circle cx="916.2" cy="29.0" r="1"/>
<circle cx="917.0" cy="29.0" r="1"/>
</g>
<path d="M127.0 816.0 L127.0 780.7 L138.4 780.7 L138.4 745.5 L147.0 745.5 L147.0 686.7 L160.5 686.7 L160.5 674.9 L165.0 674.9 L165.0 627.9 L169.5 627.9 L169.5 616.1 L180.0 616.1 L180.0 580.9 L182.0 580.9 L182.0 533.9 L196.5 533.9 L196.5 510.4 L199.0 510.4 L199.0 486.8 L201.0 486.8 L201.0 463.3 L203.0 463.3 L203.0 439.8 L205.0 439.8 L205.0 416.3 L208.0 416.3 L208.0 404.6 L236.0 404.6 L236.0 381.1 L243.0 381.1 L243.0 369.3 L263.0 369.3 L263.0 357.5 L267.0 357.5 L267.0 345.8 L270.0 345.8 L270.0 310.5 L272.0 310.5 L272.0 275.3 L275.0 275.3 L275.0 263.5 L288.0 263.5 L288.0 251.7 L313.5 251.7 L313.5 240.0 L317.0 240.0 L317.0 228.2 L337.0 228.2 L337.0 216.5 L343.0 216.5 L343.0 204.7 L345.0 204.7 L345.0 193.0 L362.0 193.0 L362.0 169.5 L368.0 169.5 L368.0 157.7 L405.0 157.7 L405.0 146.0 L429.0 146.0 L429.0 134.2 L448.0 134.2 L448.0 122.4 L467.0 122.4 L467.0 110.7 L473.0 110.7 L473.0 87.2 L521.0 87.2 L521.0 75.4 L534.0 75.4 L534.0 51.9 L547.0 51.9 L547.0 40.2 L555.0 40.2 L555.0 28.4 L916.2 28.4" fill="none" stroke="#1a7ef4" stroke-width="4.6" stroke-linejoin="miter"/>
<g fill="#1a7ef4">
<rect x="123.2" y="776.9" width="7.6" height="7.6"/>
<rect x="123.2" y="788.7" width="7.6" height="7.6"/>
<rect x="123.2" y="800.4" width="7.6" height="7.6"/>
<rect x="123.2" y="812.2" width="7.6" height="7.6"/>
<rect x="124.2" y="776.9" width="7.6" height="7.6"/>
<rect x="129.5" y="776.9" width="7.6" height="7.6"/>
<rect x="134.6" y="776.9" width="7.6" height="7.6"/>
<rect x="134.6" y="741.7" width="7.6" height="7.6"/>
<rect x="134.6" y="753.4" width="7.6" height="7.6"/>
<rect x="134.6" y="765.2" width="7.6" height="7.6"/>
<rect x="134.8" y="741.7" width="7.6" height="7.6"/>
<rect x="140.1" y="741.7" width="7.6" height="7.6"/>
<rect x="143.2" y="741.7" width="7.6" height="7.6"/>
<rect x="143.2" y="682.9" width="7.6" height="7.6"/>
<rect x="143.2" y="694.6" width="7.6" height="7.6"/>
<rect x="143.2" y="706.4" width="7.6" height="7.6"/>
<rect x="143.2" y="718.1" width="7.6" height="7.6"/>
<rect x="143.2" y="729.9" width="7.6" height="7.6"/>
<rect x="145.4" y="682.9" width="7.6" height="7.6"/>
<rect x="150.6" y="682.9" width="7.6" height="7.6"/>
<rect x="155.9" y="682.9" width="7.6" height="7.6"/>
<rect x="156.7" y="682.9" width="7.6" height="7.6"/>
<rect x="156.7" y="671.1" width="7.6" height="7.6"/>
<rect x="161.2" y="671.1" width="7.6" height="7.6"/>
<rect x="161.2" y="624.1" width="7.6" height="7.6"/>
<rect x="161.2" y="635.9" width="7.6" height="7.6"/>
<rect x="161.2" y="647.6" width="7.6" height="7.6"/>
<rect x="161.2" y="659.4" width="7.6" height="7.6"/>
<rect x="165.7" y="624.1" width="7.6" height="7.6"/>
<rect x="165.7" y="612.4" width="7.6" height="7.6"/>
<rect x="166.5" y="612.4" width="7.6" height="7.6"/>
<rect x="171.8" y="612.4" width="7.6" height="7.6"/>
<rect x="176.2" y="612.4" width="7.6" height="7.6"/>
<rect x="176.2" y="577.1" width="7.6" height="7.6"/>
<rect x="176.2" y="588.8" width="7.6" height="7.6"/>
<rect x="176.2" y="600.6" width="7.6" height="7.6"/>
<rect x="177.1" y="577.1" width="7.6" height="7.6"/>
<rect x="178.2" y="577.1" width="7.6" height="7.6"/>
<rect x="178.2" y="530.1" width="7.6" height="7.6"/>
<rect x="178.2" y="541.8" width="7.6" height="7.6"/>
<rect x="178.2" y="553.6" width="7.6" height="7.6"/>
<rect x="178.2" y="565.3" width="7.6" height="7.6"/>
<rect x="182.4" y="530.1" width="7.6" height="7.6"/>
<rect x="187.7" y="530.1" width="7.6" height="7.6"/>
<rect x="192.7" y="530.1" width="7.6" height="7.6"/>
<rect x="192.7" y="506.6" width="7.6" height="7.6"/>
<rect x="192.7" y="518.3" width="7.6" height="7.6"/>
<rect x="193.0" y="506.6" width="7.6" height="7.6"/>
<rect x="195.2" y="506.6" width="7.6" height="7.6"/>
<rect x="195.2" y="483.0" width="7.6" height="7.6"/>
<rect x="195.2" y="494.8" width="7.6" height="7.6"/>
<rect x="197.2" y="483.0" width="7.6" height="7.6"/>
<rect x="197.2" y="459.5" width="7.6" height="7.6"/>
<rect x="197.2" y="471.3" width="7.6" height="7.6"/>
<rect x="198.3" y="459.5" width="7.6" height="7.6"/>
<rect x="199.2" y="459.5" width="7.6" height="7.6"/>
<rect x="199.2" y="436.0" width="7.6" height="7.6"/>
<rect x="199.2" y="447.8" width="7.6" height="7.6"/>
<rect x="201.2" y="436.0" width="7.6" height="7.6"/>
<rect x="201.2" y="412.5" width="7.6" height="7.6"/>
<rect x="201.2" y="424.3" width="7.6" height="7.6"/>
<rect x="203.5" y="412.5" width="7.6" height="7.6"/>
<rect x="204.2" y="412.5" width="7.6" height="7.6"/>
<rect x="204.2" y="400.8" width="7.6" height="7.6"/>
<rect x="208.8" y="400.8" width="7.6" height="7.6"/>
<rect x="214.1" y="400.8" width="7.6" height="7.6"/>
<rect x="219.4" y="400.8" width="7.6" height="7.6"/>
<rect x="224.7" y="400.8" width="7.6" height="7.6"/>
<rect x="230.0" y="400.8" width="7.6" height="7.6"/>
<rect x="232.2" y="400.8" width="7.6" height="7.6"/>
<rect x="232.2" y="377.2" width="7.6" height="7.6"/>
<rect x="232.2" y="389.0" width="7.6" height="7.6"/>
<rect x="235.3" y="377.2" width="7.6" height="7.6"/>
<rect x="239.2" y="377.2" width="7.6" height="7.6"/>
<rect x="239.2" y="365.5" width="7.6" height="7.6"/>
<rect x="240.6" y="365.5" width="7.6" height="7.6"/>
<rect x="245.9" y="365.5" width="7.6" height="7.6"/>
<rect x="251.2" y="365.5" width="7.6" height="7.6"/>
<rect x="256.4" y="365.5" width="7.6" height="7.6"/>
<rect x="259.2" y="365.5" width="7.6" height="7.6"/>
<rect x="259.2" y="353.7" width="7.6" height="7.6"/>
<rect x="261.7" y="353.7" width="7.6" height="7.6"/>
<rect x="263.2" y="353.7" width="7.6" height="7.6"/>
<rect x="263.2" y="342.0" width="7.6" height="7.6"/>
<rect x="266.2" y="342.0" width="7.6" height="7.6"/>
<rect x="266.2" y="306.7" width="7.6" height="7.6"/>
<rect x="266.2" y="318.5" width="7.6" height="7.6"/>
<rect x="266.2" y="330.2" width="7.6" height="7.6"/>
<rect x="267.0" y="306.7" width="7.6" height="7.6"/>
<rect x="268.2" y="306.7" width="7.6" height="7.6"/>
<rect x="268.2" y="271.5" width="7.6" height="7.6"/>
<rect x="268.2" y="283.2" width="7.6" height="7.6"/>
<rect x="268.2" y="295.0" width="7.6" height="7.6"/>
<rect x="271.2" y="271.5" width="7.6" height="7.6"/>
<rect x="271.2" y="259.7" width="7.6" height="7.6"/>
<rect x="272.3" y="259.7" width="7.6" height="7.6"/>
<rect x="277.6" y="259.7" width="7.6" height="7.6"/>
<rect x="282.9" y="259.7" width="7.6" height="7.6"/>
<rect x="284.2" y="259.7" width="7.6" height="7.6"/>
<rect x="284.2" y="247.9" width="7.6" height="7.6"/>
<rect x="288.2" y="247.9" width="7.6" height="7.6"/>
<rect x="293.5" y="247.9" width="7.6" height="7.6"/>
<rect x="298.8" y="247.9" width="7.6" height="7.6"/>
<rect x="304.1" y="247.9" width="7.6" height="7.6"/>
<rect x="309.3" y="247.9" width="7.6" height="7.6"/>
<rect x="309.7" y="247.9" width="7.6" height="7.6"/>
<rect x="309.7" y="236.2" width="7.6" height="7.6"/>
<rect x="313.2" y="236.2" width="7.6" height="7.6"/>
<rect x="313.2" y="224.4" width="7.6" height="7.6"/>
<rect x="314.6" y="224.4" width="7.6" height="7.6"/>
<rect x="319.9" y="224.4" width="7.6" height="7.6"/>
<rect x="325.2" y="224.4" width="7.6" height="7.6"/>
<rect x="330.5" y="224.4" width="7.6" height="7.6"/>
<rect x="333.2" y="224.4" width="7.6" height="7.6"/>
<rect x="333.2" y="212.7" width="7.6" height="7.6"/>
<rect x="335.8" y="212.7" width="7.6" height="7.6"/>
<rect x="339.2" y="212.7" width="7.6" height="7.6"/>
<rect x="339.2" y="200.9" width="7.6" height="7.6"/>
<rect x="341.1" y="200.9" width="7.6" height="7.6"/>
<rect x="341.2" y="200.9" width="7.6" height="7.6"/>
<rect x="341.2" y="189.2" width="7.6" height="7.6"/>
<rect x="346.4" y="189.2" width="7.6" height="7.6"/>
<rect x="351.7" y="189.2" width="7.6" height="7.6"/>
<rect x="357.0" y="189.2" width="7.6" height="7.6"/>
<rect x="358.2" y="189.2" width="7.6" height="7.6"/>
<rect x="358.2" y="165.7" width="7.6" height="7.6"/>
<rect x="358.2" y="177.4" width="7.6" height="7.6"/>
<rect x="362.2" y="165.7" width="7.6" height="7.6"/>
<rect x="364.2" y="165.7" width="7.6" height="7.6"/>
<rect x="364.2" y="153.9" width="7.6" height="7.6"/>
<rect x="367.5" y="153.9" width="7.6" height="7.6"/>
<rect x="372.8" y="153.9" width="7.6" height="7.6"/>
<rect x="378.1" y="153.9" width="7.6" height="7.6"/>
<rect x="383.4" y="153.9" width="7.6" height="7.6"/>
<rect x="388.7" y="153.9" width="7.6" height="7.6"/>
<rect x="394.0" y="153.9" width="7.6" height="7.6"/>
<rect x="399.3" y="153.9" width="7.6" height="7.6"/>
<rect x="401.2" y="153.9" width="7.6" height="7.6"/>
<rect x="401.2" y="142.2" width="7.6" height="7.6"/>
<rect x="404.6" y="142.2" width="7.6" height="7.6"/>
<rect x="409.9" y="142.2" width="7.6" height="7.6"/>
<rect x="415.1" y="142.2" width="7.6" height="7.6"/>
<rect x="420.4" y="142.2" width="7.6" height="7.6"/>
<rect x="425.2" y="142.2" width="7.6" height="7.6"/>
<rect x="425.2" y="130.4" width="7.6" height="7.6"/>
<rect x="425.7" y="130.4" width="7.6" height="7.6"/>
<rect x="431.0" y="130.4" width="7.6" height="7.6"/>
<rect x="436.3" y="130.4" width="7.6" height="7.6"/>
<rect x="441.6" y="130.4" width="7.6" height="7.6"/>
<rect x="444.2" y="130.4" width="7.6" height="7.6"/>
<rect x="444.2" y="118.6" width="7.6" height="7.6"/>
<rect x="446.9" y="118.6" width="7.6" height="7.6"/>
<rect x="452.2" y="118.6" width="7.6" height="7.6"/>
<rect x="457.5" y="118.6" width="7.6" height="7.6"/>
<rect x="462.8" y="118.6" width="7.6" height="7.6"/>
<rect x="463.2" y="118.6" width="7.6" height="7.6"/>
<rect x="463.2" y="106.9" width="7.6" height="7.6"/>
<rect x="468.1" y="106.9" width="7.6" height="7.6"/>
<rect x="469.2" y="106.9" width="7.6" height="7.6"/>
<rect x="469.2" y="83.4" width="7.6" height="7.6"/>
<rect x="469.2" y="95.1" width="7.6" height="7.6"/>
<rect x="473.3" y="83.4" width="7.6" height="7.6"/>
<rect x="478.6" y="83.4" width="7.6" height="7.6"/>
<rect x="483.9" y="83.4" width="7.6" height="7.6"/>
<rect x="489.2" y="83.4" width="7.6" height="7.6"/>
<rect x="494.5" y="83.4" width="7.6" height="7.6"/>
<rect x="499.8" y="83.4" width="7.6" height="7.6"/>
<rect x="505.1" y="83.4" width="7.6" height="7.6"/>
<rect x="510.4" y="83.4" width="7.6" height="7.6"/>
<rect x="515.7" y="83.4" width="7.6" height="7.6"/>
<rect x="517.2" y="83.4" width="7.6" height="7.6"/>
<rect x="517.2" y="71.6" width="7.6" height="7.6"/>
<rect x="521.0" y="71.6" width="7.6" height="7.6"/>
<rect x="526.2" y="71.6" width="7.6" height="7.6"/>
<rect x="530.2" y="71.6" width="7.6" height="7.6"/>
<rect x="530.2" y="48.1" width="7.6" height="7.6"/>
<rect x="530.2" y="59.9" width="7.6" height="7.6"/>
<rect x="531.5" y="48.1" width="7.6" height="7.6"/>
<rect x="536.8" y="48.1" width="7.6" height="7.6"/>
<rect x="542.1" y="48.1" width="7.6" height="7.6"/>
<rect x="543.2" y="48.1" width="7.6" height="7.6"/>
<rect x="543.2" y="36.4" width="7.6" height="7.6"/>
<rect x="547.4" y="36.4" width="7.6" height="7.6"/>
<rect x="551.2" y="36.4" width="7.6" height="7.6"/>
<rect x="551.2" y="24.6" width="7.6" height="7.6"/>
<rect x="552.7" y="24.6" width="7.6" height="7.6"/>
<rect x="558.0" y="24.6" width="7.6" height="7.6"/>
<rect x="563.3" y="24.6" width="7.6" height="7.6"/>
<rect x="568.6" y="24.6" width="7.6" height="7.6"/>
<rect x="573.9" y="24.6" width="7.6" height="7.6"/>
<rect x="579.1" y="24.6" width="7.6" height="7.6"/>
<rect x="584.4" y="24.6" width="7.6" height="7.6"/>
<rect x="589.7" y="24.6" width="7.6" height="7.6"/>
<rect x="595.0" y="24.6" width="7.6" height="7.6"/>
<rect x="600.3" y="24.6" width="7.6" height="7.6"/>
<rect x="605.6" y="24.6" width="7.6" height="7.6"/>
<rect x="610.9" y="24.6" width="7.6" height="7.6"/>
<rect x="616.2" y="24.6" width="7.6" height="7.6"/>
<rect x="621.5" y="24.6" width="7.6" height="7.6"/>
<rect x="626.8" y="24.6" width="7.6" height="7.6"/>
<rect x="632.0" y="24.6" width="7.6" height="7.6"/>
<rect x="637.3" y="24.6" width="7.6" height="7.6"/>
<rect x="642.6" y="24.6" width="7.6" height="7.6"/>
<rect x="647.9" y="24.6" width="7.6" height="7.6"/>
<rect x="653.2" y="24.6" width="7.6" height="7.6"/>
<rect x="658.5" y="24.6" width="7.6" height="7.6"/>
<rect x="663.8" y="24.6" width="7.6" height="7.6"/>
<rect x="669.1" y="24.6" width="7.6" height="7.6"/>
<rect x="674.4" y="24.6" width="7.6" height="7.6"/>
<rect x="679.7" y="24.6" width="7.6" height="7.6"/>
<rect x="684.9" y="24.6" width="7.6" height="7.6"/>
<rect x="690.2" y="24.6" width="7.6" height="7.6"/>
<rect x="695.5" y="24.6" width="7.6" height="7.6"/>
<rect x="700.8" y="24.6" width="7.6" height="7.6"/>
<rect x="706.1" y="24.6" width="7.6" height="7.6"/>
<rect x="711.4" y="24.6" width="7.6" height="7.6"/>
<rect x="716.7" y="24.6" width="7.6" height="7.6"/>
<rect x="722.0" y="24.6" width="7.6" height="7.6"/>
<rect x="727.3" y="24.6" width="7.6" height="7.6"/>
<rect x="732.6" y="24.6" width="7.6" height="7.6"/>
<rect x="737.8" y="24.6" width="7.6" height="7.6"/>
<rect x="743.1" y="24.6" width="7.6" height="7.6"/>
<rect x="748.4" y="24.6" width="7.6" height="7.6"/>
<rect x="753.7" y="24.6" width="7.6" height="7.6"/>
<rect x="759.0" y="24.6" width="7.6" height="7.6"/>
<rect x="764.3" y="24.6" width="7.6" height="7.6"/>
<rect x="769.6" y="24.6" width="7.6" height="7.6"/>
<rect x="774.9" y="24.6" width="7.6" height="7.6"/>
<rect x="780.2" y="24.6" width="7.6" height="7.6"/>
<rect x="785.5" y="24.6" width="7.6" height="7.6"/>
<rect x="790.7" y="24.6" width="7.6" height="7.6"/>
<rect x="796.0" y="24.6" width="7.6" height="7.6"/>
<rect x="801.3" y="24.6" width="7.6" height="7.6"/>
<rect x="806.6" y="24.6" width="7.6" height="7.6"/>
<rect x="811.9" y="24.6" width="7.6" height="7.6"/>
<rect x="817.2" y="24.6" width="7.6" height="7.6"/>
<rect x="822.5" y="24.6" width="7.6" height="7.6"/>
<rect x="827.8" y="24.6" width="7.6" height="7.6"/>
<rect x="833.1" y="24.6" width="7.6" height="7.6"/>
<rect x="838.4" y="24.6" width="7.6" height="7.6"/>
<rect x="843.6" y="24.6" width="7.6" height="7.6"/>
<rect x="848.9" y="24.6" width="7.6" height="7.6"/>
<rect x="854.2" y="24.6" width="7.6" height="7.6"/>
<rect x="859.5" y="24.6" width="7.6" height="7.6"/>
<rect x="864.8" y="24.6" width="7.6" height="7.6"/>
<rect x="870.1" y="24.6" width="7.6" height="7.6"/>
<rect x="875.4" y="24.6" width="7.6" height="7.6"/>
<rect x="880.7" y="24.6" width="7.6" height="7.6"/>
<rect x="886.0" y="24.6" width="7.6" height="7.6"/>
<rect x="891.2" y="24.6" width="7.6" height="7.6"/>
<rect x="896.5" y="24.6" width="7.6" height="7.6"/>
<rect x="901.8" y="24.6" width="7.6" height="7.6"/>
<rect x="907.1" y="24.6" width="7.6" height="7.6"/>
<rect x="912.4" y="24.6" width="7.6" height="7.6"/>
</g>
<path d="M128.0 816.0 L129.5 816.0 L129.5 780.7 L131.5 780.7 L131.5 733.7 L133.7 733.7 L133.7 721.9 L137.5 721.9 L137.5 674.9 L141.5 674.9 L141.5 663.2 L145.0 663.2 L145.0 651.4 L150.5 651.4 L150.5 639.7 L156.5 639.7 L156.5 616.1 L158.0 616.1 L158.0 592.6 L160.0 592.6 L160.0 569.1 L167.4 569.1 L167.4 545.6 L170.0 545.6 L170.0 522.1 L183.0 522.1 L183.0 510.4 L187.0 510.4 L187.0 498.6 L190.5 498.6 L190.5 486.8 L193.0 486.8 L193.0 475.1 L195.0 475.1 L195.0 463.3 L198.0 463.3 L198.0 451.6 L200.0 451.6 L200.0 439.8 L211.6 439.8 L211.6 428.1 L213.0 428.1 L213.0 404.6 L222.0 404.6 L222.0 392.8 L230.5 392.8 L230.5 381.1 L233.0 381.1 L233.0 369.3 L236.0 369.3 L236.0 357.5 L238.5 357.5 L238.5 345.8 L241.0 345.8 L241.0 334.0 L243.0 334.0 L243.0 322.3 L252.0 322.3 L252.0 310.5 L266.0 310.5 L266.0 275.3 L280.0 275.3 L280.0 263.5 L284.0 263.5 L284.0 251.7 L287.0 251.7 L287.0 240.0 L297.0 240.0 L297.0 228.2 L315.8 228.2 L315.8 204.7 L344.5 204.7 L344.5 181.2 L348.0 181.2 L348.0 169.5 L352.0 169.5 L352.0 157.7 L397.5 157.7 L397.5 134.2 L404.0 134.2 L404.0 122.4 L414.0 122.4 L414.0 110.7 L442.5 110.7 L442.5 98.9 L456.5 98.9 L456.5 87.2 L466.0 87.2 L466.0 63.7 L544.5 63.7 L544.5 51.9 L615.5 51.9 L615.5 40.2 L681.0 40.2 L681.0 28.4 L915.5 28.4" fill="none" stroke="#ff6410" stroke-width="5.6" stroke-linejoin="miter"/>
<g fill="#ff6410">
<path d="M128.0 811.7 l3.9 7.8 h-7.8 z"/>
<path d="M129.5 811.7 l3.9 7.8 h-7.8 z"/>
<path d="M129.5 776.4 l3.9 7.8 h-7.8 z"/>
<path d="M129.5 788.2 l3.9 7.8 h-7.8 z"/>
<path d="M129.5 799.9 l3.9 7.8 h-7.8 z"/>
<path d="M131.5 776.4 l3.9 7.8 h-7.8 z"/>
<path d="M131.5 729.4 l3.9 7.8 h-7.8 z"/>
<path d="M131.5 741.2 l3.9 7.8 h-7.8 z"/>
<path d="M131.5 752.9 l3.9 7.8 h-7.8 z"/>
<path d="M131.5 764.7 l3.9 7.8 h-7.8 z"/>
<path d="M133.3 729.4 l3.9 7.8 h-7.8 z"/>
<path d="M133.7 729.4 l3.9 7.8 h-7.8 z"/>
<path d="M133.7 717.6 l3.9 7.8 h-7.8 z"/>
<path d="M137.5 717.6 l3.9 7.8 h-7.8 z"/>
<path d="M137.5 670.6 l3.9 7.8 h-7.8 z"/>
<path d="M137.5 682.4 l3.9 7.8 h-7.8 z"/>
<path d="M137.5 694.1 l3.9 7.8 h-7.8 z"/>
<path d="M137.5 705.9 l3.9 7.8 h-7.8 z"/>
<path d="M138.6 670.6 l3.9 7.8 h-7.8 z"/>
<path d="M141.5 670.6 l3.9 7.8 h-7.8 z"/>
<path d="M141.5 658.9 l3.9 7.8 h-7.8 z"/>
<path d="M143.9 658.9 l3.9 7.8 h-7.8 z"/>
<path d="M145.0 658.9 l3.9 7.8 h-7.8 z"/>
<path d="M145.0 647.1 l3.9 7.8 h-7.8 z"/>
<path d="M149.2 647.1 l3.9 7.8 h-7.8 z"/>
<path d="M150.5 647.1 l3.9 7.8 h-7.8 z"/>
<path d="M150.5 635.4 l3.9 7.8 h-7.8 z"/>
<path d="M154.4 635.4 l3.9 7.8 h-7.8 z"/>
<path d="M156.5 635.4 l3.9 7.8 h-7.8 z"/>
<path d="M156.5 611.9 l3.9 7.8 h-7.8 z"/>
<path d="M156.5 623.6 l3.9 7.8 h-7.8 z"/>
<path d="M158.0 611.9 l3.9 7.8 h-7.8 z"/>
<path d="M158.0 588.3 l3.9 7.8 h-7.8 z"/>
<path d="M158.0 600.1 l3.9 7.8 h-7.8 z"/>
<path d="M159.7 588.3 l3.9 7.8 h-7.8 z"/>
<path d="M160.0 588.3 l3.9 7.8 h-7.8 z"/>
<path d="M160.0 564.8 l3.9 7.8 h-7.8 z"/>
<path d="M160.0 576.6 l3.9 7.8 h-7.8 z"/>
<path d="M165.0 564.8 l3.9 7.8 h-7.8 z"/>
<path d="M167.4 564.8 l3.9 7.8 h-7.8 z"/>
<path d="M167.4 541.3 l3.9 7.8 h-7.8 z"/>
<path d="M167.4 553.1 l3.9 7.8 h-7.8 z"/>
<path d="M170.0 541.3 l3.9 7.8 h-7.8 z"/>
<path d="M170.0 517.8 l3.9 7.8 h-7.8 z"/>
<path d="M170.0 529.6 l3.9 7.8 h-7.8 z"/>
<path d="M170.3 517.8 l3.9 7.8 h-7.8 z"/>
<path d="M175.6 517.8 l3.9 7.8 h-7.8 z"/>
<path d="M180.9 517.8 l3.9 7.8 h-7.8 z"/>
<path d="M183.0 517.8 l3.9 7.8 h-7.8 z"/>
<path d="M183.0 506.1 l3.9 7.8 h-7.8 z"/>
<path d="M186.2 506.1 l3.9 7.8 h-7.8 z"/>
<path d="M187.0 506.1 l3.9 7.8 h-7.8 z"/>
<path d="M187.0 494.3 l3.9 7.8 h-7.8 z"/>
<path d="M190.5 494.3 l3.9 7.8 h-7.8 z"/>
<path d="M190.5 482.5 l3.9 7.8 h-7.8 z"/>
<path d="M191.5 482.5 l3.9 7.8 h-7.8 z"/>
<path d="M193.0 482.5 l3.9 7.8 h-7.8 z"/>
<path d="M193.0 470.8 l3.9 7.8 h-7.8 z"/>
<path d="M195.0 470.8 l3.9 7.8 h-7.8 z"/>
<path d="M195.0 459.0 l3.9 7.8 h-7.8 z"/>
<path d="M196.8 459.0 l3.9 7.8 h-7.8 z"/>
<path d="M198.0 459.0 l3.9 7.8 h-7.8 z"/>
<path d="M198.0 447.3 l3.9 7.8 h-7.8 z"/>
<path d="M200.0 447.3 l3.9 7.8 h-7.8 z"/>
<path d="M200.0 435.5 l3.9 7.8 h-7.8 z"/>
<path d="M202.1 435.5 l3.9 7.8 h-7.8 z"/>
<path d="M207.3 435.5 l3.9 7.8 h-7.8 z"/>
<path d="M211.6 435.5 l3.9 7.8 h-7.8 z"/>
<path d="M211.6 423.8 l3.9 7.8 h-7.8 z"/>
<path d="M212.6 423.8 l3.9 7.8 h-7.8 z"/>
<path d="M213.0 423.8 l3.9 7.8 h-7.8 z"/>
<path d="M213.0 400.3 l3.9 7.8 h-7.8 z"/>
<path d="M213.0 412.0 l3.9 7.8 h-7.8 z"/>
<path d="M217.9 400.3 l3.9 7.8 h-7.8 z"/>
<path d="M222.0 400.3 l3.9 7.8 h-7.8 z"/>
<path d="M222.0 388.5 l3.9 7.8 h-7.8 z"/>
<path d="M223.2 388.5 l3.9 7.8 h-7.8 z"/>
<path d="M228.5 388.5 l3.9 7.8 h-7.8 z"/>
<path d="M230.5 388.5 l3.9 7.8 h-7.8 z"/>
<path d="M230.5 376.8 l3.9 7.8 h-7.8 z"/>
<path d="M233.0 376.8 l3.9 7.8 h-7.8 z"/>
<path d="M233.0 365.0 l3.9 7.8 h-7.8 z"/>
<path d="M233.8 365.0 l3.9 7.8 h-7.8 z"/>
<path d="M236.0 365.0 l3.9 7.8 h-7.8 z"/>
<path d="M236.0 353.2 l3.9 7.8 h-7.8 z"/>
<path d="M238.5 353.2 l3.9 7.8 h-7.8 z"/>
<path d="M238.5 341.5 l3.9 7.8 h-7.8 z"/>
<path d="M239.1 341.5 l3.9 7.8 h-7.8 z"/>
<path d="M241.0 341.5 l3.9 7.8 h-7.8 z"/>
<path d="M241.0 329.7 l3.9 7.8 h-7.8 z"/>
<path d="M243.0 329.7 l3.9 7.8 h-7.8 z"/>
<path d="M243.0 318.0 l3.9 7.8 h-7.8 z"/>
<path d="M244.4 318.0 l3.9 7.8 h-7.8 z"/>
<path d="M249.7 318.0 l3.9 7.8 h-7.8 z"/>
<path d="M252.0 318.0 l3.9 7.8 h-7.8 z"/>
<path d="M252.0 306.2 l3.9 7.8 h-7.8 z"/>
<path d="M255.0 306.2 l3.9 7.8 h-7.8 z"/>
<path d="M260.2 306.2 l3.9 7.8 h-7.8 z"/>
<path d="M265.5 306.2 l3.9 7.8 h-7.8 z"/>
<path d="M266.0 306.2 l3.9 7.8 h-7.8 z"/>
<path d="M266.0 271.0 l3.9 7.8 h-7.8 z"/>
<path d="M266.0 282.7 l3.9 7.8 h-7.8 z"/>
<path d="M266.0 294.5 l3.9 7.8 h-7.8 z"/>
<path d="M270.8 271.0 l3.9 7.8 h-7.8 z"/>
<path d="M276.1 271.0 l3.9 7.8 h-7.8 z"/>
<path d="M280.0 271.0 l3.9 7.8 h-7.8 z"/>
<path d="M280.0 259.2 l3.9 7.8 h-7.8 z"/>
<path d="M281.4 259.2 l3.9 7.8 h-7.8 z"/>
<path d="M284.0 259.2 l3.9 7.8 h-7.8 z"/>
<path d="M284.0 247.4 l3.9 7.8 h-7.8 z"/>
<path d="M286.7 247.4 l3.9 7.8 h-7.8 z"/>
<path d="M287.0 247.4 l3.9 7.8 h-7.8 z"/>
<path d="M287.0 235.7 l3.9 7.8 h-7.8 z"/>
<path d="M292.0 235.7 l3.9 7.8 h-7.8 z"/>
<path d="M297.0 235.7 l3.9 7.8 h-7.8 z"/>
<path d="M297.0 223.9 l3.9 7.8 h-7.8 z"/>
<path d="M297.3 223.9 l3.9 7.8 h-7.8 z"/>
<path d="M302.6 223.9 l3.9 7.8 h-7.8 z"/>
<path d="M307.9 223.9 l3.9 7.8 h-7.8 z"/>
<path d="M313.1 223.9 l3.9 7.8 h-7.8 z"/>
<path d="M315.8 223.9 l3.9 7.8 h-7.8 z"/>
<path d="M315.8 200.4 l3.9 7.8 h-7.8 z"/>
<path d="M315.8 212.2 l3.9 7.8 h-7.8 z"/>
<path d="M318.4 200.4 l3.9 7.8 h-7.8 z"/>
<path d="M323.7 200.4 l3.9 7.8 h-7.8 z"/>
<path d="M329.0 200.4 l3.9 7.8 h-7.8 z"/>
<path d="M334.3 200.4 l3.9 7.8 h-7.8 z"/>
<path d="M339.6 200.4 l3.9 7.8 h-7.8 z"/>
<path d="M344.5 200.4 l3.9 7.8 h-7.8 z"/>
<path d="M344.5 176.9 l3.9 7.8 h-7.8 z"/>
<path d="M344.5 188.7 l3.9 7.8 h-7.8 z"/>
<path d="M344.9 176.9 l3.9 7.8 h-7.8 z"/>
<path d="M348.0 176.9 l3.9 7.8 h-7.8 z"/>
<path d="M348.0 165.2 l3.9 7.8 h-7.8 z"/>
<path d="M350.2 165.2 l3.9 7.8 h-7.8 z"/>
<path d="M352.0 165.2 l3.9 7.8 h-7.8 z"/>
<path d="M352.0 153.4 l3.9 7.8 h-7.8 z"/>
<path d="M355.5 153.4 l3.9 7.8 h-7.8 z"/>
<path d="M360.8 153.4 l3.9 7.8 h-7.8 z"/>
<path d="M366.1 153.4 l3.9 7.8 h-7.8 z"/>
<path d="M371.3 153.4 l3.9 7.8 h-7.8 z"/>
<path d="M376.6 153.4 l3.9 7.8 h-7.8 z"/>
<path d="M381.9 153.4 l3.9 7.8 h-7.8 z"/>
<path d="M387.2 153.4 l3.9 7.8 h-7.8 z"/>
<path d="M392.5 153.4 l3.9 7.8 h-7.8 z"/>
<path d="M397.5 153.4 l3.9 7.8 h-7.8 z"/>
<path d="M397.5 129.9 l3.9 7.8 h-7.8 z"/>
<path d="M397.5 141.7 l3.9 7.8 h-7.8 z"/>
<path d="M397.8 129.9 l3.9 7.8 h-7.8 z"/>
<path d="M403.1 129.9 l3.9 7.8 h-7.8 z"/>
<path d="M404.0 129.9 l3.9 7.8 h-7.8 z"/>
<path d="M404.0 118.1 l3.9 7.8 h-7.8 z"/>
<path d="M408.4 118.1 l3.9 7.8 h-7.8 z"/>
<path d="M413.7 118.1 l3.9 7.8 h-7.8 z"/>
<path d="M414.0 118.1 l3.9 7.8 h-7.8 z"/>
<path d="M414.0 106.4 l3.9 7.8 h-7.8 z"/>
<path d="M418.9 106.4 l3.9 7.8 h-7.8 z"/>
<path d="M424.2 106.4 l3.9 7.8 h-7.8 z"/>
<path d="M429.5 106.4 l3.9 7.8 h-7.8 z"/>
<path d="M434.8 106.4 l3.9 7.8 h-7.8 z"/>
<path d="M440.1 106.4 l3.9 7.8 h-7.8 z"/>
<path d="M442.5 106.4 l3.9 7.8 h-7.8 z"/>
<path d="M442.5 94.6 l3.9 7.8 h-7.8 z"/>
<path d="M445.4 94.6 l3.9 7.8 h-7.8 z"/>
<path d="M450.7 94.6 l3.9 7.8 h-7.8 z"/>
<path d="M456.0 94.6 l3.9 7.8 h-7.8 z"/>
<path d="M456.5 94.6 l3.9 7.8 h-7.8 z"/>
<path d="M456.5 82.9 l3.9 7.8 h-7.8 z"/>
<path d="M461.3 82.9 l3.9 7.8 h-7.8 z"/>
<path d="M466.0 82.9 l3.9 7.8 h-7.8 z"/>
<path d="M466.0 59.4 l3.9 7.8 h-7.8 z"/>
<path d="M466.0 71.1 l3.9 7.8 h-7.8 z"/>
<path d="M466.6 59.4 l3.9 7.8 h-7.8 z"/>
<path d="M471.9 59.4 l3.9 7.8 h-7.8 z"/>
<path d="M477.1 59.4 l3.9 7.8 h-7.8 z"/>
<path d="M482.4 59.4 l3.9 7.8 h-7.8 z"/>
<path d="M487.7 59.4 l3.9 7.8 h-7.8 z"/>
<path d="M493.0 59.4 l3.9 7.8 h-7.8 z"/>
<path d="M498.3 59.4 l3.9 7.8 h-7.8 z"/>
<path d="M503.6 59.4 l3.9 7.8 h-7.8 z"/>
<path d="M508.9 59.4 l3.9 7.8 h-7.8 z"/>
<path d="M514.2 59.4 l3.9 7.8 h-7.8 z"/>
<path d="M519.5 59.4 l3.9 7.8 h-7.8 z"/>
<path d="M524.8 59.4 l3.9 7.8 h-7.8 z"/>
<path d="M530.0 59.4 l3.9 7.8 h-7.8 z"/>
<path d="M535.3 59.4 l3.9 7.8 h-7.8 z"/>
<path d="M540.6 59.4 l3.9 7.8 h-7.8 z"/>
<path d="M544.5 59.4 l3.9 7.8 h-7.8 z"/>
<path d="M544.5 47.6 l3.9 7.8 h-7.8 z"/>
<path d="M545.9 47.6 l3.9 7.8 h-7.8 z"/>
<path d="M551.2 47.6 l3.9 7.8 h-7.8 z"/>
<path d="M556.5 47.6 l3.9 7.8 h-7.8 z"/>
<path d="M561.8 47.6 l3.9 7.8 h-7.8 z"/>
<path d="M567.1 47.6 l3.9 7.8 h-7.8 z"/>
<path d="M572.4 47.6 l3.9 7.8 h-7.8 z"/>
<path d="M577.6 47.6 l3.9 7.8 h-7.8 z"/>
<path d="M582.9 47.6 l3.9 7.8 h-7.8 z"/>
<path d="M588.2 47.6 l3.9 7.8 h-7.8 z"/>
<path d="M593.5 47.6 l3.9 7.8 h-7.8 z"/>
<path d="M598.8 47.6 l3.9 7.8 h-7.8 z"/>
<path d="M604.1 47.6 l3.9 7.8 h-7.8 z"/>
<path d="M609.4 47.6 l3.9 7.8 h-7.8 z"/>
<path d="M614.7 47.6 l3.9 7.8 h-7.8 z"/>
<path d="M615.5 47.6 l3.9 7.8 h-7.8 z"/>
<path d="M615.5 35.9 l3.9 7.8 h-7.8 z"/>
<path d="M620.0 35.9 l3.9 7.8 h-7.8 z"/>
<path d="M625.3 35.9 l3.9 7.8 h-7.8 z"/>
<path d="M630.5 35.9 l3.9 7.8 h-7.8 z"/>
<path d="M635.8 35.9 l3.9 7.8 h-7.8 z"/>
<path d="M641.1 35.9 l3.9 7.8 h-7.8 z"/>
<path d="M646.4 35.9 l3.9 7.8 h-7.8 z"/>
<path d="M651.7 35.9 l3.9 7.8 h-7.8 z"/>
<path d="M657.0 35.9 l3.9 7.8 h-7.8 z"/>
<path d="M662.3 35.9 l3.9 7.8 h-7.8 z"/>
<path d="M667.6 35.9 l3.9 7.8 h-7.8 z"/>
<path d="M672.9 35.9 l3.9 7.8 h-7.8 z"/>
<path d="M678.2 35.9 l3.9 7.8 h-7.8 z"/>
<path d="M681.0 35.9 l3.9 7.8 h-7.8 z"/>
<path d="M681.0 24.1 l3.9 7.8 h-7.8 z"/>
<path d="M683.5 24.1 l3.9 7.8 h-7.8 z"/>
<path d="M688.7 24.1 l3.9 7.8 h-7.8 z"/>
<path d="M694.0 24.1 l3.9 7.8 h-7.8 z"/>
<path d="M699.3 24.1 l3.9 7.8 h-7.8 z"/>
<path d="M704.6 24.1 l3.9 7.8 h-7.8 z"/>
<path d="M709.9 24.1 l3.9 7.8 h-7.8 z"/>
<path d="M715.2 24.1 l3.9 7.8 h-7.8 z"/>
<path d="M720.5 24.1 l3.9 7.8 h-7.8 z"/>
<path d="M725.8 24.1 l3.9 7.8 h-7.8 z"/>
<path d="M731.1 24.1 l3.9 7.8 h-7.8 z"/>
<path d="M736.4 24.1 l3.9 7.8 h-7.8 z"/>
<path d="M741.6 24.1 l3.9 7.8 h-7.8 z"/>
<path d="M746.9 24.1 l3.9 7.8 h-7.8 z"/>
<path d="M752.2 24.1 l3.9 7.8 h-7.8 z"/>
<path d="M757.5 24.1 l3.9 7.8 h-7.8 z"/>
<path d="M762.8 24.1 l3.9 7.8 h-7.8 z"/>
<path d="M768.1 24.1 l3.9 7.8 h-7.8 z"/>
<path d="M773.4 24.1 l3.9 7.8 h-7.8 z"/>
<path d="M778.7 24.1 l3.9 7.8 h-7.8 z"/>
<path d="M784.0 24.1 l3.9 7.8 h-7.8 z"/>
<path d="M789.2 24.1 l3.9 7.8 h-7.8 z"/>
<path d="M794.5 24.1 l3.9 7.8 h-7.8 z"/>
<path d="M799.8 24.1 l3.9 7.8 h-7.8 z"/>
<path d="M805.1 24.1 l3.9 7.8 h-7.8 z"/>
<path d="M810.4 24.1 l3.9 7.8 h-7.8 z"/>
<path d="M815.7 24.1 l3.9 7.8 h-7.8 z"/>
<path d="M821.0 24.1 l3.9 7.8 h-7.8 z"/>
<path d="M826.3 24.1 l3.9 7.8 h-7.8 z"/>
<path d="M831.6 24.1 l3.9 7.8 h-7.8 z"/>
<path d="M836.9 24.1 l3.9 7.8 h-7.8 z"/>
<path d="M842.1 24.1 l3.9 7.8 h-7.8 z"/>
<path d="M847.4 24.1 l3.9 7.8 h-7.8 z"/>
<path d="M852.7 24.1 l3.9 7.8 h-7.8 z"/>
<path d="M858.0 24.1 l3.9 7.8 h-7.8 z"/>
<path d="M863.3 24.1 l3.9 7.8 h-7.8 z"/>
<path d="M868.6 24.1 l3.9 7.8 h-7.8 z"/>
<path d="M873.9 24.1 l3.9 7.8 h-7.8 z"/>
<path d="M879.2 24.1 l3.9 7.8 h-7.8 z"/>
<path d="M884.5 24.1 l3.9 7.8 h-7.8 z"/>
<path d="M889.8 24.1 l3.9 7.8 h-7.8 z"/>
<path d="M895.0 24.1 l3.9 7.8 h-7.8 z"/>
<path d="M900.3 24.1 l3.9 7.8 h-7.8 z"/>
<path d="M905.6 24.1 l3.9 7.8 h-7.8 z"/>
<path d="M910.9 24.1 l3.9 7.8 h-7.8 z"/>
<path d="M915.5 24.1 l3.9 7.8 h-7.8 z"/>
</g>
<rect x="491.5" y="636.2" width="440.8" height="171.2" fill="#fff" stroke="#262626" stroke-width="2.7"/>
<line x1="504" y1="659.0" x2="547.7" y2="659.0" stroke="#2929a8" stroke-width="5"/>
<text x="559.3" y="668.2" font-size="24.3" letter-spacing="-0.7" fill="#1a1a1a">CHA2DS2-VASc score</text>
<line x1="504" y1="690.4" x2="547.7" y2="690.4" stroke="#30c430" stroke-width="5"/>
<text x="559.3" y="699.6" font-size="24.3" letter-spacing="-0.7" fill="#1a1a1a">CHA2DS2-VASc score+LA GLS</text>
<line x1="504" y1="721.7" x2="547.7" y2="721.7" stroke="#ffff20" stroke-width="5"/>
<text x="559.3" y="730.9" font-size="24.3" letter-spacing="-0.7" fill="#1a1a1a">CHA2DS2-VASc score+LA MD</text>
<line x1="504" y1="753.0" x2="547.7" y2="753.0" stroke="#2f97ff" stroke-width="5"/>
<text x="559.3" y="762.2" font-size="24.3" letter-spacing="-0.7" fill="#1a1a1a">CHA2DS2-VASc score+LAA GLS</text>
<line x1="504" y1="784.4" x2="547.7" y2="784.4" stroke="#ff6410" stroke-width="5"/>
<text x="559.3" y="793.6" font-size="24.3" letter-spacing="-0.7" fill="#1a1a1a">CHA2DS2-VASc score+LAA MD</text>
<g stroke="#1a1a1a" stroke-width="1.8" fill="none">
<rect x="98.8" y="931.5" width="846.7" height="540.5"/>
<line x1="98.8" y1="980.8" x2="945.5" y2="980.8"/>
<line x1="98.8" y1="1030.5" x2="945.5" y2="1030.5"/>
<line x1="98.8" y1="1080.0" x2="945.5" y2="1080.0"/>
<line x1="98.8" y1="1129.5" x2="945.5" y2="1129.5"/>
<line x1="98.8" y1="1179.0" x2="945.5" y2="1179.0"/>
<line x1="98.8" y1="1228.8" x2="945.5" y2="1228.8"/>
<line x1="98.8" y1="1276.0" x2="945.5" y2="1276.0"/>
<line x1="98.8" y1="1330.6" x2="945.5" y2="1330.6"/>
<line x1="98.8" y1="1377.8" x2="945.5" y2="1377.8"/>
<line x1="98.8" y1="1425.3" x2="945.5" y2="1425.3"/>
<line x1="634.6" y1="931.5" x2="634.6" y2="1228.8"/>
<line x1="740.5" y1="931.5" x2="740.5" y2="1228.8"/>
<line x1="809.3" y1="1228.8" x2="809.3" y2="1472"/>
</g>
<g font-family="Liberation Serif, serif" fill="#111" style="word-spacing:1.9px">
<text transform="translate(115.2,967.0) scale(1.000,1)" font-size="28.2" text-anchor="start" xml:space="preserve">Variable</text>
<text transform="translate(649.5,967.0) scale(1.000,1)" font-size="28.2" text-anchor="start" xml:space="preserve">AUC</text>
<text transform="translate(836.0,967.0) scale(1.000,1)" font-size="28.2" text-anchor="middle" xml:space="preserve">95% CI</text>
<text transform="translate(115.2,1016.3) scale(1.000,1)" font-size="28.2" text-anchor="start" xml:space="preserve">CHA<tspan font-size="17.5" dy="3.6" dx="0.9">2</tspan><tspan dy="-3.6" dx="0.9">DS</tspan><tspan font-size="17.5" dy="3.6" dx="0.9">2</tspan><tspan dy="-3.6" dx="0.9">-VASc score</tspan></text>
<text transform="translate(649.5,1016.3) scale(1.000,1)" font-size="28.2" text-anchor="start" xml:space="preserve">0.65</text>
<text transform="translate(755.5,1016.3) scale(1.000,1)" font-size="28.2" text-anchor="start" xml:space="preserve">0.58 to 0.71</text>
<text transform="translate(115.2,1065.8) scale(1.000,1)" font-size="28.2" text-anchor="start" xml:space="preserve">CHA<tspan font-size="17.5" dy="3.6" dx="0.9">2</tspan><tspan dy="-3.6" dx="0.9">DS</tspan><tspan font-size="17.5" dy="3.6" dx="0.9">2</tspan><tspan dy="-3.6" dx="0.9">-VASc score</tspan> + LA GLS</text>
<text transform="translate(649.5,1065.8) scale(1.000,1)" font-size="28.2" text-anchor="start" xml:space="preserve">0.81</text>
<text transform="translate(755.5,1065.8) scale(1.000,1)" font-size="28.2" text-anchor="start" xml:space="preserve">0.71 to 0.85</text>
<text transform="translate(115.2,1115.2) scale(1.000,1)" font-size="28.2" text-anchor="start" xml:space="preserve">CHA<tspan font-size="17.5" dy="3.6" dx="0.9">2</tspan><tspan dy="-3.6" dx="0.9">DS</tspan><tspan font-size="17.5" dy="3.6" dx="0.9">2</tspan><tspan dy="-3.6" dx="0.9">-VASc score</tspan> + LA MD</text>
<text transform="translate(649.5,1115.2) scale(1.000,1)" font-size="28.2" text-anchor="start" xml:space="preserve">0.76</text>
<text transform="translate(755.5,1115.2) scale(1.000,1)" font-size="28.2" text-anchor="start" xml:space="preserve">0.71 to 0.81</text>
<text transform="translate(115.2,1164.7) scale(1.000,1)" font-size="28.2" text-anchor="start" xml:space="preserve">CHA<tspan font-size="17.5" dy="3.6" dx="0.9">2</tspan><tspan dy="-3.6" dx="0.9">DS</tspan><tspan font-size="17.5" dy="3.6" dx="0.9">2</tspan><tspan dy="-3.6" dx="0.9">-VASc score</tspan> + LAA GLS</text>
<text transform="translate(649.5,1164.7) scale(1.000,1)" font-size="28.2" text-anchor="start" xml:space="preserve">0.84</text>
<text transform="translate(755.5,1164.7) scale(1.000,1)" font-size="28.2" text-anchor="start" xml:space="preserve">0.80 to 0.89</text>
<text transform="translate(115.2,1214.1) scale(1.000,1)" font-size="28.2" text-anchor="start" xml:space="preserve">CHA<tspan font-size="17.5" dy="3.6" dx="0.9">2</tspan><tspan dy="-3.6" dx="0.9">DS</tspan><tspan font-size="17.5" dy="3.6" dx="0.9">2</tspan><tspan dy="-3.6" dx="0.9">-VASc score</tspan> + LAA MD</text>
<text transform="translate(649.5,1214.1) scale(1.000,1)" font-size="28.2" text-anchor="start" xml:space="preserve">0.83</text>
<text transform="translate(755.5,1214.1) scale(1.000,1)" font-size="28.2" text-anchor="start" xml:space="preserve">0.79 to 0.87</text>
<text transform="translate(114.3,1262.0) scale(1.000,1)" font-size="26.1" text-anchor="start" xml:space="preserve">AUC  comparison</text>
<text transform="translate(876.5,1262.0) scale(1.000,1)" font-size="26.1" text-anchor="middle" xml:space="preserve">P value</text>
<text transform="translate(114.3,1312.0) scale(1.000,1)" font-size="26.1" text-anchor="start" xml:space="preserve">CHA<tspan font-size="16.2" dy="3.6" dx="0.9">2</tspan><tspan dy="-3.6" dx="0.9">DS</tspan><tspan font-size="16.2" dy="3.6" dx="0.9">2</tspan><tspan dy="-3.6" dx="0.9">-VASc score</tspan>  vs CHA<tspan font-size="16.2" dy="3.6" dx="0.9">2</tspan><tspan dy="-3.6" dx="0.9">DS</tspan><tspan font-size="16.2" dy="3.6" dx="0.9">2</tspan><tspan dy="-3.6" dx="0.9">-VASc score</tspan> + LA GLS</text>
<text transform="translate(823.2,1312.0) scale(1.000,1)" font-size="26.1" text-anchor="start" xml:space="preserve">&lt; 0.01</text>
<text transform="translate(114.3,1362.4) scale(1.000,1)" font-size="26.1" text-anchor="start" xml:space="preserve">CHA<tspan font-size="16.2" dy="3.6" dx="0.9">2</tspan><tspan dy="-3.6" dx="0.9">DS</tspan><tspan font-size="16.2" dy="3.6" dx="0.9">2</tspan><tspan dy="-3.6" dx="0.9">-VASc score</tspan>  vs CHA<tspan font-size="16.2" dy="3.6" dx="0.9">2</tspan><tspan dy="-3.6" dx="0.9">DS</tspan><tspan font-size="16.2" dy="3.6" dx="0.9">2</tspan><tspan dy="-3.6" dx="0.9">-VASc score</tspan> + LA MD</text>
<text transform="translate(823.2,1362.4) scale(1.000,1)" font-size="26.1" text-anchor="start" xml:space="preserve">&lt; 0.01</text>
<text transform="translate(114.3,1410.0) scale(1.000,1)" font-size="26.1" text-anchor="start" xml:space="preserve">CHA<tspan font-size="16.2" dy="3.6" dx="0.9">2</tspan><tspan dy="-3.6" dx="0.9">DS</tspan><tspan font-size="16.2" dy="3.6" dx="0.9">2</tspan><tspan dy="-3.6" dx="0.9">-VASc score</tspan>  vs CHA<tspan font-size="16.2" dy="3.6" dx="0.9">2</tspan><tspan dy="-3.6" dx="0.9">DS</tspan><tspan font-size="16.2" dy="3.6" dx="0.9">2</tspan><tspan dy="-3.6" dx="0.9">-VASc score</tspan> + LAA GLS</text>
<text transform="translate(823.2,1410.0) scale(1.000,1)" font-size="26.1" text-anchor="start" xml:space="preserve">&lt; 0.01</text>
<text transform="translate(114.3,1457.9) scale(1.000,1)" font-size="26.1" text-anchor="start" xml:space="preserve">CHA<tspan font-size="16.2" dy="3.6" dx="0.9">2</tspan><tspan dy="-3.6" dx="0.9">DS</tspan><tspan font-size="16.2" dy="3.6" dx="0.9">2</tspan><tspan dy="-3.6" dx="0.9">-VASc score</tspan>  vs CHA<tspan font-size="16.2" dy="3.6" dx="0.9">2</tspan><tspan dy="-3.6" dx="0.9">DS</tspan><tspan font-size="16.2" dy="3.6" dx="0.9">2</tspan><tspan dy="-3.6" dx="0.9">-VASc score</tspan> + LAA MD</text>
<text transform="translate(823.2,1457.9) scale(1.000,1)" font-size="26.1" text-anchor="start" xml:space="preserve">&lt; 0.01</text>
</g>
</svg>
</body></html>
